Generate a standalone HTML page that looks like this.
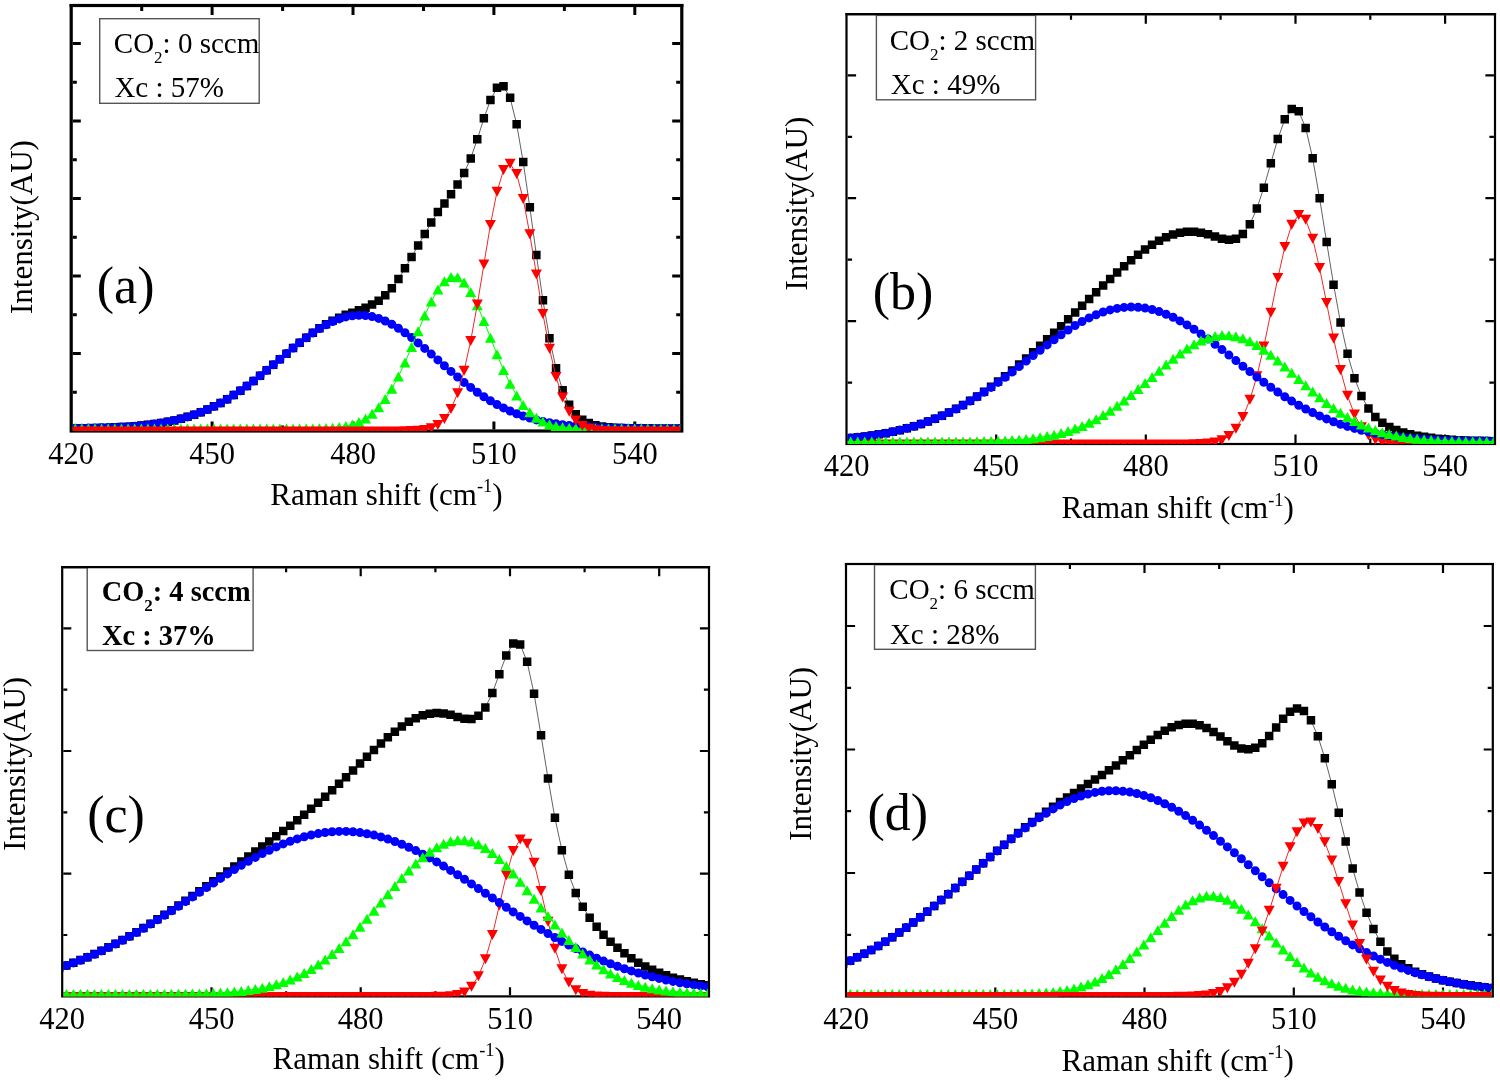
<!DOCTYPE html><html><head><meta charset="utf-8"><title>Raman spectra</title><style>html,body{margin:0;padding:0;background:#fff;overflow:hidden}svg{display:block;will-change:transform}</style></head><body>
<svg width="1500" height="1080" viewBox="0 0 1500 1080">
<rect width="1500" height="1080" fill="#fff"/>
<defs>
<clipPath id="clipa"><rect x="72.8" y="7.1" width="607.4" height="423.9"/></clipPath>
<clipPath id="clipb"><rect x="847.6" y="15.3" width="646.3" height="428.7"/></clipPath>
<clipPath id="clipc"><rect x="63.3" y="568.3" width="644.6" height="428.1"/></clipPath>
<clipPath id="clipd"><rect x="847.1" y="565.1" width="644.6" height="431.4"/></clipPath>
</defs>
<g id="panela">
<rect x="71.2" y="5.5" width="610.6" height="425.5" fill="none" stroke="#000" stroke-width="3.2"/>
<path d="M141.7 429.4v-4.0M141.7 7.1v4.0M212.1 429.4v-8.0M212.1 7.1v8.0M282.6 429.4v-4.0M282.6 7.1v4.0M353 429.4v-8.0M353 7.1v8.0M423.5 429.4v-4.0M423.5 7.1v4.0M493.9 429.4v-8.0M493.9 7.1v8.0M564.4 429.4v-4.0M564.4 7.1v4.0M634.8 429.4v-8.0M634.8 7.1v8.0M72.8 392.2h4.0M680.2 392.2h-4.0M72.8 353.5h8.0M680.2 353.5h-8.0M72.8 314.8h4.0M680.2 314.8h-4.0M72.8 276h8.0M680.2 276h-8.0M72.8 237.2h4.0M680.2 237.2h-4.0M72.8 198.5h8.0M680.2 198.5h-8.0M72.8 159.8h4.0M680.2 159.8h-4.0M72.8 121h8.0M680.2 121h-8.0M72.8 82.2h4.0M680.2 82.2h-4.0M72.8 43.5h8.0M680.2 43.5h-8.0" stroke="#000" stroke-width="3.0" fill="none"/>
<g clip-path="url(#clipa)">
<polyline fill="none" stroke="#505050" stroke-width="0.9" points="68.5,428.3 75.2,428.3 81.8,428.2 88.4,428.1 95,428 101.6,427.8 108.2,427.6 114.8,427.4 121.4,427 128.1,426.7 134.7,426.2 141.3,425.6 147.9,424.9 154.5,424 161.1,423 167.7,421.8 174.3,420.4 180.9,418.8 187.5,416.9 194.1,414.7 200.7,412.3 207.3,409.5 213.9,406.4 220.5,403 227.1,399.2 233.7,395.1 240.3,390.7 246.9,386 253.5,381 260.1,375.7 266.7,370.3 273.3,364.8 279.9,359.2 286.5,353.6 293.1,348.1 299.6,342.7 306.2,337.6 312.8,332.8 319.4,328.3 326,324.3 332.6,320.6 339.2,317.6 345.8,314.8 352.3,312.7 358.9,310.3 365.5,307.8 372.1,304.5 378.7,300.7 385.2,295.1 391.8,288.2 398.4,278.9 405,268.4 411.6,256.9 418.1,245.5 424.7,234.1 431.3,222.6 437.9,212.1 444.4,203.6 451,194.3 457.6,184.4 464.1,172.9 470.7,158.4 477.3,139.3 483.9,118.4 490.4,100.1 497,87.8 503.5,86.3 510.1,97.8 516.7,124.4 523.2,162 529.8,207.2 536.4,254.9 542.9,300.3 549.5,338.1 556,368.2 562.6,390.2 569.2,404.9 575.7,414.4 582.3,419.9 588.8,423 595.4,425.1 601.9,426.4 608.5,427.3 615,427.9 621.6,428.1 628.2,428.2 634.7,428.3 641.3,428.3 647.8,428.4 654.3,428.4 660.9,428.4 667.4,428.5 674,428.5 680.5,428.5"/>
<path fill="#000" d="M64.3 424.1h8.5v8.5h-8.5zM70.9 424h8.5v8.5h-8.5zM77.5 423.9h8.5v8.5h-8.5zM84.1 423.9h8.5v8.5h-8.5zM90.7 423.7h8.5v8.5h-8.5zM97.4 423.6h8.5v8.5h-8.5zM104 423.4h8.5v8.5h-8.5zM110.6 423.1h8.5v8.5h-8.5zM117.2 422.8h8.5v8.5h-8.5zM123.8 422.4h8.5v8.5h-8.5zM130.4 421.9h8.5v8.5h-8.5zM137 421.3h8.5v8.5h-8.5zM143.6 420.6h8.5v8.5h-8.5zM150.2 419.8h8.5v8.5h-8.5zM156.8 418.8h8.5v8.5h-8.5zM163.5 417.6h8.5v8.5h-8.5zM170.1 416.2h8.5v8.5h-8.5zM176.7 414.5h8.5v8.5h-8.5zM183.3 412.6h8.5v8.5h-8.5zM189.9 410.5h8.5v8.5h-8.5zM196.5 408h8.5v8.5h-8.5zM203.1 405.2h8.5v8.5h-8.5zM209.7 402.1h8.5v8.5h-8.5zM216.3 398.7h8.5v8.5h-8.5zM222.9 394.9h8.5v8.5h-8.5zM229.5 390.8h8.5v8.5h-8.5zM236.1 386.4h8.5v8.5h-8.5zM242.7 381.7h8.5v8.5h-8.5zM249.3 376.7h8.5v8.5h-8.5zM255.8 371.5h8.5v8.5h-8.5zM262.4 366.1h8.5v8.5h-8.5zM269 360.6h8.5v8.5h-8.5zM275.6 355h8.5v8.5h-8.5zM282.2 349.4h8.5v8.5h-8.5zM288.8 343.8h8.5v8.5h-8.5zM295.4 338.5h8.5v8.5h-8.5zM302 333.4h8.5v8.5h-8.5zM308.6 328.5h8.5v8.5h-8.5zM315.2 324.1h8.5v8.5h-8.5zM321.8 320h8.5v8.5h-8.5zM328.3 316.4h8.5v8.5h-8.5zM334.9 313.4h8.5v8.5h-8.5zM341.5 310.5h8.5v8.5h-8.5zM348.1 308.5h8.5v8.5h-8.5zM354.7 306.1h8.5v8.5h-8.5zM361.3 303.5h8.5v8.5h-8.5zM367.8 300.2h8.5v8.5h-8.5zM374.4 296.4h8.5v8.5h-8.5zM381 290.9h8.5v8.5h-8.5zM387.6 283.9h8.5v8.5h-8.5zM394.2 274.7h8.5v8.5h-8.5zM400.7 264.1h8.5v8.5h-8.5zM407.3 252.7h8.5v8.5h-8.5zM413.9 241.3h8.5v8.5h-8.5zM420.5 229.8h8.5v8.5h-8.5zM427 218.3h8.5v8.5h-8.5zM433.6 207.8h8.5v8.5h-8.5zM440.2 199.3h8.5v8.5h-8.5zM446.8 190.1h8.5v8.5h-8.5zM453.3 180.2h8.5v8.5h-8.5zM459.9 168.7h8.5v8.5h-8.5zM466.5 154.2h8.5v8.5h-8.5zM473 135.1h8.5v8.5h-8.5zM479.6 114.1h8.5v8.5h-8.5zM486.2 95.8h8.5v8.5h-8.5zM492.7 83.6h8.5v8.5h-8.5zM499.3 82h8.5v8.5h-8.5zM505.9 93.5h8.5v8.5h-8.5zM512.4 120.1h8.5v8.5h-8.5zM519 157.7h8.5v8.5h-8.5zM525.6 202.9h8.5v8.5h-8.5zM532.1 250.7h8.5v8.5h-8.5zM538.7 296.1h8.5v8.5h-8.5zM545.2 333.9h8.5v8.5h-8.5zM551.8 364h8.5v8.5h-8.5zM558.4 386h8.5v8.5h-8.5zM564.9 400.6h8.5v8.5h-8.5zM571.5 410.1h8.5v8.5h-8.5zM578 415.6h8.5v8.5h-8.5zM584.6 418.8h8.5v8.5h-8.5zM591.1 420.9h8.5v8.5h-8.5zM597.7 422.2h8.5v8.5h-8.5zM604.2 423h8.5v8.5h-8.5zM610.8 423.6h8.5v8.5h-8.5zM617.4 423.8h8.5v8.5h-8.5zM623.9 423.9h8.5v8.5h-8.5zM630.5 424h8.5v8.5h-8.5zM637 424.1h8.5v8.5h-8.5zM643.5 424.1h8.5v8.5h-8.5zM650.1 424.2h8.5v8.5h-8.5zM656.6 424.2h8.5v8.5h-8.5zM663.2 424.2h8.5v8.5h-8.5zM669.7 424.2h8.5v8.5h-8.5zM676.3 424.2h8.5v8.5h-8.5z"/>
<polyline fill="none" stroke="#0000ff" stroke-width="1.0" points="68.5,428.3 75.2,428.3 81.8,428.2 88.4,428.1 95,428 101.6,427.8 108.2,427.6 114.8,427.4 121.4,427 128.1,426.7 134.7,426.2 141.3,425.6 147.9,424.9 154.5,424 161.1,423 167.7,421.8 174.3,420.4 180.9,418.8 187.5,416.9 194.1,414.7 200.7,412.3 207.3,409.5 213.9,406.4 220.5,403 227.1,399.2 233.7,395.1 240.3,390.7 246.9,386 253.5,381 260.1,375.7 266.7,370.3 273.3,364.8 279.9,359.2 286.5,353.6 293.1,348.1 299.6,342.8 306.2,337.7 312.8,333 319.4,328.6 326,324.8 332.6,321.5 339.2,318.9 345.8,316.9 352.3,315.7 358.9,315.2 365.5,315.5 372.1,316.6 378.7,318.4 385.2,321 391.8,324.3 398.4,328.2 405,332.7 411.6,337.6 418.1,342.9 424.7,348.4 431.3,354.1 437.9,359.9 444.4,365.7 451,371.4 457.6,377 464.1,382.4 470.7,387.4 477.3,392.2 483.9,396.7 490.4,400.8 497,404.5 503.5,407.9 510.1,411 516.7,413.7 523.2,416 529.8,418.1 536.4,419.9 542.9,421.4 549.5,422.7 556,423.8 562.6,424.7 569.2,425.5 575.7,426.1 582.3,426.6 588.8,427 595.4,427.3 601.9,427.6 608.5,427.8 615,428 621.6,428.1 628.2,428.2 634.7,428.3 641.3,428.3 647.8,428.4 654.3,428.4 660.9,428.4 667.4,428.5 674,428.5 680.5,428.5"/>
<path fill="#0000ff" d="M64 428.3a4.5 4.5 0 1 0 9.0 0a4.5 4.5 0 1 0 -9.0 0zM70.7 428.3a4.5 4.5 0 1 0 9.0 0a4.5 4.5 0 1 0 -9.0 0zM77.3 428.2a4.5 4.5 0 1 0 9.0 0a4.5 4.5 0 1 0 -9.0 0zM83.9 428.1a4.5 4.5 0 1 0 9.0 0a4.5 4.5 0 1 0 -9.0 0zM90.5 428a4.5 4.5 0 1 0 9.0 0a4.5 4.5 0 1 0 -9.0 0zM97.1 427.8a4.5 4.5 0 1 0 9.0 0a4.5 4.5 0 1 0 -9.0 0zM103.7 427.6a4.5 4.5 0 1 0 9.0 0a4.5 4.5 0 1 0 -9.0 0zM110.3 427.4a4.5 4.5 0 1 0 9.0 0a4.5 4.5 0 1 0 -9.0 0zM116.9 427a4.5 4.5 0 1 0 9.0 0a4.5 4.5 0 1 0 -9.0 0zM123.6 426.7a4.5 4.5 0 1 0 9.0 0a4.5 4.5 0 1 0 -9.0 0zM130.2 426.2a4.5 4.5 0 1 0 9.0 0a4.5 4.5 0 1 0 -9.0 0zM136.8 425.6a4.5 4.5 0 1 0 9.0 0a4.5 4.5 0 1 0 -9.0 0zM143.4 424.9a4.5 4.5 0 1 0 9.0 0a4.5 4.5 0 1 0 -9.0 0zM150 424a4.5 4.5 0 1 0 9.0 0a4.5 4.5 0 1 0 -9.0 0zM156.6 423a4.5 4.5 0 1 0 9.0 0a4.5 4.5 0 1 0 -9.0 0zM163.2 421.8a4.5 4.5 0 1 0 9.0 0a4.5 4.5 0 1 0 -9.0 0zM169.8 420.4a4.5 4.5 0 1 0 9.0 0a4.5 4.5 0 1 0 -9.0 0zM176.4 418.8a4.5 4.5 0 1 0 9.0 0a4.5 4.5 0 1 0 -9.0 0zM183 416.9a4.5 4.5 0 1 0 9.0 0a4.5 4.5 0 1 0 -9.0 0zM189.6 414.7a4.5 4.5 0 1 0 9.0 0a4.5 4.5 0 1 0 -9.0 0zM196.2 412.3a4.5 4.5 0 1 0 9.0 0a4.5 4.5 0 1 0 -9.0 0zM202.8 409.5a4.5 4.5 0 1 0 9.0 0a4.5 4.5 0 1 0 -9.0 0zM209.4 406.4a4.5 4.5 0 1 0 9.0 0a4.5 4.5 0 1 0 -9.0 0zM216 403a4.5 4.5 0 1 0 9.0 0a4.5 4.5 0 1 0 -9.0 0zM222.6 399.2a4.5 4.5 0 1 0 9.0 0a4.5 4.5 0 1 0 -9.0 0zM229.2 395.1a4.5 4.5 0 1 0 9.0 0a4.5 4.5 0 1 0 -9.0 0zM235.8 390.7a4.5 4.5 0 1 0 9.0 0a4.5 4.5 0 1 0 -9.0 0zM242.4 386a4.5 4.5 0 1 0 9.0 0a4.5 4.5 0 1 0 -9.0 0zM249 381a4.5 4.5 0 1 0 9.0 0a4.5 4.5 0 1 0 -9.0 0zM255.6 375.7a4.5 4.5 0 1 0 9.0 0a4.5 4.5 0 1 0 -9.0 0zM262.2 370.3a4.5 4.5 0 1 0 9.0 0a4.5 4.5 0 1 0 -9.0 0zM268.8 364.8a4.5 4.5 0 1 0 9.0 0a4.5 4.5 0 1 0 -9.0 0zM275.4 359.2a4.5 4.5 0 1 0 9.0 0a4.5 4.5 0 1 0 -9.0 0zM282 353.6a4.5 4.5 0 1 0 9.0 0a4.5 4.5 0 1 0 -9.0 0zM288.6 348.1a4.5 4.5 0 1 0 9.0 0a4.5 4.5 0 1 0 -9.0 0zM295.1 342.8a4.5 4.5 0 1 0 9.0 0a4.5 4.5 0 1 0 -9.0 0zM301.7 337.7a4.5 4.5 0 1 0 9.0 0a4.5 4.5 0 1 0 -9.0 0zM308.3 333a4.5 4.5 0 1 0 9.0 0a4.5 4.5 0 1 0 -9.0 0zM314.9 328.6a4.5 4.5 0 1 0 9.0 0a4.5 4.5 0 1 0 -9.0 0zM321.5 324.8a4.5 4.5 0 1 0 9.0 0a4.5 4.5 0 1 0 -9.0 0zM328.1 321.5a4.5 4.5 0 1 0 9.0 0a4.5 4.5 0 1 0 -9.0 0zM334.7 318.9a4.5 4.5 0 1 0 9.0 0a4.5 4.5 0 1 0 -9.0 0zM341.3 316.9a4.5 4.5 0 1 0 9.0 0a4.5 4.5 0 1 0 -9.0 0zM347.8 315.7a4.5 4.5 0 1 0 9.0 0a4.5 4.5 0 1 0 -9.0 0zM354.4 315.2a4.5 4.5 0 1 0 9.0 0a4.5 4.5 0 1 0 -9.0 0zM361 315.5a4.5 4.5 0 1 0 9.0 0a4.5 4.5 0 1 0 -9.0 0zM367.6 316.6a4.5 4.5 0 1 0 9.0 0a4.5 4.5 0 1 0 -9.0 0zM374.2 318.4a4.5 4.5 0 1 0 9.0 0a4.5 4.5 0 1 0 -9.0 0zM380.7 321a4.5 4.5 0 1 0 9.0 0a4.5 4.5 0 1 0 -9.0 0zM387.3 324.3a4.5 4.5 0 1 0 9.0 0a4.5 4.5 0 1 0 -9.0 0zM393.9 328.2a4.5 4.5 0 1 0 9.0 0a4.5 4.5 0 1 0 -9.0 0zM400.5 332.7a4.5 4.5 0 1 0 9.0 0a4.5 4.5 0 1 0 -9.0 0zM407.1 337.6a4.5 4.5 0 1 0 9.0 0a4.5 4.5 0 1 0 -9.0 0zM413.6 342.9a4.5 4.5 0 1 0 9.0 0a4.5 4.5 0 1 0 -9.0 0zM420.2 348.4a4.5 4.5 0 1 0 9.0 0a4.5 4.5 0 1 0 -9.0 0zM426.8 354.1a4.5 4.5 0 1 0 9.0 0a4.5 4.5 0 1 0 -9.0 0zM433.4 359.9a4.5 4.5 0 1 0 9.0 0a4.5 4.5 0 1 0 -9.0 0zM439.9 365.7a4.5 4.5 0 1 0 9.0 0a4.5 4.5 0 1 0 -9.0 0zM446.5 371.4a4.5 4.5 0 1 0 9.0 0a4.5 4.5 0 1 0 -9.0 0zM453.1 377a4.5 4.5 0 1 0 9.0 0a4.5 4.5 0 1 0 -9.0 0zM459.6 382.4a4.5 4.5 0 1 0 9.0 0a4.5 4.5 0 1 0 -9.0 0zM466.2 387.4a4.5 4.5 0 1 0 9.0 0a4.5 4.5 0 1 0 -9.0 0zM472.8 392.2a4.5 4.5 0 1 0 9.0 0a4.5 4.5 0 1 0 -9.0 0zM479.4 396.7a4.5 4.5 0 1 0 9.0 0a4.5 4.5 0 1 0 -9.0 0zM485.9 400.8a4.5 4.5 0 1 0 9.0 0a4.5 4.5 0 1 0 -9.0 0zM492.5 404.5a4.5 4.5 0 1 0 9.0 0a4.5 4.5 0 1 0 -9.0 0zM499 407.9a4.5 4.5 0 1 0 9.0 0a4.5 4.5 0 1 0 -9.0 0zM505.6 411a4.5 4.5 0 1 0 9.0 0a4.5 4.5 0 1 0 -9.0 0zM512.2 413.7a4.5 4.5 0 1 0 9.0 0a4.5 4.5 0 1 0 -9.0 0zM518.7 416a4.5 4.5 0 1 0 9.0 0a4.5 4.5 0 1 0 -9.0 0zM525.3 418.1a4.5 4.5 0 1 0 9.0 0a4.5 4.5 0 1 0 -9.0 0zM531.9 419.9a4.5 4.5 0 1 0 9.0 0a4.5 4.5 0 1 0 -9.0 0zM538.4 421.4a4.5 4.5 0 1 0 9.0 0a4.5 4.5 0 1 0 -9.0 0zM545 422.7a4.5 4.5 0 1 0 9.0 0a4.5 4.5 0 1 0 -9.0 0zM551.5 423.8a4.5 4.5 0 1 0 9.0 0a4.5 4.5 0 1 0 -9.0 0zM558.1 424.7a4.5 4.5 0 1 0 9.0 0a4.5 4.5 0 1 0 -9.0 0zM564.7 425.5a4.5 4.5 0 1 0 9.0 0a4.5 4.5 0 1 0 -9.0 0zM571.2 426.1a4.5 4.5 0 1 0 9.0 0a4.5 4.5 0 1 0 -9.0 0zM577.8 426.6a4.5 4.5 0 1 0 9.0 0a4.5 4.5 0 1 0 -9.0 0zM584.3 427a4.5 4.5 0 1 0 9.0 0a4.5 4.5 0 1 0 -9.0 0zM590.9 427.3a4.5 4.5 0 1 0 9.0 0a4.5 4.5 0 1 0 -9.0 0zM597.4 427.6a4.5 4.5 0 1 0 9.0 0a4.5 4.5 0 1 0 -9.0 0zM604 427.8a4.5 4.5 0 1 0 9.0 0a4.5 4.5 0 1 0 -9.0 0zM610.5 428a4.5 4.5 0 1 0 9.0 0a4.5 4.5 0 1 0 -9.0 0zM617.1 428.1a4.5 4.5 0 1 0 9.0 0a4.5 4.5 0 1 0 -9.0 0zM623.7 428.2a4.5 4.5 0 1 0 9.0 0a4.5 4.5 0 1 0 -9.0 0zM630.2 428.3a4.5 4.5 0 1 0 9.0 0a4.5 4.5 0 1 0 -9.0 0zM636.8 428.3a4.5 4.5 0 1 0 9.0 0a4.5 4.5 0 1 0 -9.0 0zM643.3 428.4a4.5 4.5 0 1 0 9.0 0a4.5 4.5 0 1 0 -9.0 0zM649.8 428.4a4.5 4.5 0 1 0 9.0 0a4.5 4.5 0 1 0 -9.0 0zM656.4 428.4a4.5 4.5 0 1 0 9.0 0a4.5 4.5 0 1 0 -9.0 0zM662.9 428.5a4.5 4.5 0 1 0 9.0 0a4.5 4.5 0 1 0 -9.0 0zM669.5 428.5a4.5 4.5 0 1 0 9.0 0a4.5 4.5 0 1 0 -9.0 0zM676 428.5a4.5 4.5 0 1 0 9.0 0a4.5 4.5 0 1 0 -9.0 0z"/>
<polyline fill="none" stroke="#00ff00" stroke-width="1.0" points="68.5,428.6 75.2,428.6 81.8,428.6 88.4,428.6 95,428.6 101.6,428.6 108.2,428.6 114.8,428.6 121.4,428.6 128.1,428.6 134.7,428.6 141.3,428.6 147.9,428.6 154.5,428.6 161.1,428.6 167.7,428.6 174.3,428.6 180.9,428.6 187.5,428.6 194.1,428.6 200.7,428.6 207.3,428.6 213.9,428.6 220.5,428.6 227.1,428.6 233.7,428.6 240.3,428.6 246.9,428.6 253.5,428.6 260.1,428.6 266.7,428.6 273.3,428.6 279.9,428.6 286.5,428.6 293.1,428.6 299.6,428.6 306.2,428.5 312.8,428.4 319.4,428.3 326,428.1 332.6,427.7 339.2,427 345.8,426 352.3,424.4 358.9,422 365.5,418.5 372.1,413.7 378.7,407.3 385.2,399 391.8,388.7 398.4,376.4 405,362.4 411.6,347.1 418.1,331.2 424.7,315.6 431.3,301.4 437.9,289.6 444.4,281.2 451,277 457.6,277.3 464.1,282.5 470.7,292.1 477.3,305.3 483.9,321 490.4,337.7 497,354.3 503.5,369.9 510.1,383.8 516.7,395.5 523.2,404.9 529.8,412.2 536.4,417.7 542.9,421.5 549.5,424.2 556,425.9 562.6,427 569.2,427.7 575.7,428.1 582.3,428.3 588.8,428.5 595.4,428.5 601.9,428.6 608.5,428.6 615,428.6 621.6,428.6 628.2,428.6 634.7,428.6 641.3,428.6 647.8,428.6 654.3,428.6 660.9,428.6 667.4,428.6 674,428.6 680.5,428.6"/>
<path fill="#00ff00" d="M68.5 423.6L74 433.6H63zM75.2 423.6L80.7 433.6H69.7zM81.8 423.6L87.3 433.6H76.3zM88.4 423.6L93.9 433.6H82.9zM95 423.6L100.5 433.6H89.5zM101.6 423.6L107.1 433.6H96.1zM108.2 423.6L113.7 433.6H102.7zM114.8 423.6L120.3 433.6H109.3zM121.4 423.6L126.9 433.6H115.9zM128.1 423.6L133.6 433.6H122.6zM134.7 423.6L140.2 433.6H129.2zM141.3 423.6L146.8 433.6H135.8zM147.9 423.6L153.4 433.6H142.4zM154.5 423.6L160 433.6H149zM161.1 423.6L166.6 433.6H155.6zM167.7 423.6L173.2 433.6H162.2zM174.3 423.6L179.8 433.6H168.8zM180.9 423.6L186.4 433.6H175.4zM187.5 423.6L193 433.6H182zM194.1 423.6L199.6 433.6H188.6zM200.7 423.6L206.2 433.6H195.2zM207.3 423.6L212.8 433.6H201.8zM213.9 423.6L219.4 433.6H208.4zM220.5 423.6L226 433.6H215zM227.1 423.6L232.6 433.6H221.6zM233.7 423.6L239.2 433.6H228.2zM240.3 423.6L245.8 433.6H234.8zM246.9 423.6L252.4 433.6H241.4zM253.5 423.6L259 433.6H248zM260.1 423.6L265.6 433.6H254.6zM266.7 423.6L272.2 433.6H261.2zM273.3 423.6L278.8 433.6H267.8zM279.9 423.6L285.4 433.6H274.4zM286.5 423.6L292 433.6H281zM293.1 423.6L298.6 433.6H287.6zM299.6 423.6L305.1 433.6H294.1zM306.2 423.5L311.7 433.5H300.7zM312.8 423.4L318.3 433.4H307.3zM319.4 423.3L324.9 433.3H313.9zM326 423.1L331.5 433.1H320.5zM332.6 422.7L338.1 432.7H327.1zM339.2 422L344.7 432H333.7zM345.8 421L351.3 431H340.3zM352.3 419.4L357.8 429.4H346.8zM358.9 417L364.4 427H353.4zM365.5 413.5L371 423.5H360zM372.1 408.7L377.6 418.7H366.6zM378.7 402.3L384.2 412.3H373.2zM385.2 394L390.7 404H379.7zM391.8 383.7L397.3 393.7H386.3zM398.4 371.4L403.9 381.4H392.9zM405 357.4L410.5 367.4H399.5zM411.6 342.1L417.1 352.1H406.1zM418.1 326.2L423.6 336.2H412.6zM424.7 310.6L430.2 320.6H419.2zM431.3 296.4L436.8 306.4H425.8zM437.9 284.6L443.4 294.6H432.4zM444.4 276.2L449.9 286.2H438.9zM451 272L456.5 282H445.5zM457.6 272.3L463.1 282.3H452.1zM464.1 277.5L469.6 287.5H458.6zM470.7 287.1L476.2 297.1H465.2zM477.3 300.3L482.8 310.3H471.8zM483.9 316L489.4 326H478.4zM490.4 332.7L495.9 342.7H484.9zM497 349.3L502.5 359.3H491.5zM503.5 364.9L509 374.9H498zM510.1 378.8L515.6 388.8H504.6zM516.7 390.5L522.2 400.5H511.2zM523.2 399.9L528.7 409.9H517.7zM529.8 407.2L535.3 417.2H524.3zM536.4 412.7L541.9 422.7H530.9zM542.9 416.5L548.4 426.5H537.4zM549.5 419.2L555 429.2H544zM556 420.9L561.5 430.9H550.5zM562.6 422L568.1 432H557.1zM569.2 422.7L574.7 432.7H563.7zM575.7 423.1L581.2 433.1H570.2zM582.3 423.3L587.8 433.3H576.8zM588.8 423.5L594.3 433.5H583.3zM595.4 423.5L600.9 433.5H589.9zM601.9 423.6L607.4 433.6H596.4zM608.5 423.6L614 433.6H603zM615 423.6L620.5 433.6H609.5zM621.6 423.6L627.1 433.6H616.1zM628.2 423.6L633.7 433.6H622.7zM634.7 423.6L640.2 433.6H629.2zM641.3 423.6L646.8 433.6H635.8zM647.8 423.6L653.3 433.6H642.3zM654.3 423.6L659.8 433.6H648.8zM660.9 423.6L666.4 433.6H655.4zM667.4 423.6L672.9 433.6H661.9zM674 423.6L679.5 433.6H668.5zM680.5 423.6L686 433.6H675z"/>
<polyline fill="none" stroke="#f02828" stroke-width="1.0" points="68.5,431.4 75.2,431.4 81.8,431.4 88.4,431.4 95,431.4 101.6,431.4 108.2,431.4 114.8,431.4 121.4,431.4 128.1,431.4 134.7,431.4 141.3,431.4 147.9,431.4 154.5,431.4 161.1,431.4 167.7,431.4 174.3,431.4 180.9,431.4 187.5,431.4 194.1,431.4 200.7,431.4 207.3,431.4 213.9,431.4 220.5,431.4 227.1,431.4 233.7,431.4 240.3,431.4 246.9,431.4 253.5,431.4 260.1,431.4 266.7,431.4 273.3,431.4 279.9,431.4 286.5,431.4 293.1,431.4 299.6,431.4 306.2,431.4 312.8,431.4 319.4,431.4 326,431.4 332.6,431.4 339.2,431.4 345.8,431.4 352.3,431.4 358.9,431.4 365.5,431.4 372.1,431.4 378.7,431.4 385.2,431.4 391.8,431.4 398.4,431.4 405,431.3 411.6,431.1 418.1,430.8 424.7,429.9 431.3,428.2 437.9,424.9 444.4,418.9 451,408.9 457.6,393.3 464.1,370.8 470.7,340.9 477.3,304.5 483.9,264.4 490.4,224.9 497,191.7 503.5,170.1 510.1,163.8 516.7,174.1 523.2,199 529.8,234.3 536.4,274.4 542.9,313.9 549.5,348.8 556,376.9 562.6,397.6 569.2,411.7 575.7,420.6 582.3,425.9 588.8,428.7 595.4,430.2 601.9,430.9 608.5,431.2 615,431.3 621.6,431.4 628.2,431.4 634.7,431.4 641.3,431.4 647.8,431.4 654.3,431.4 660.9,431.4 667.4,431.4 674,431.4 680.5,431.4"/>
<path fill="#ff0000" d="M63 426.4H74L68.5 436.4zM69.7 426.4H80.7L75.2 436.4zM76.3 426.4H87.3L81.8 436.4zM82.9 426.4H93.9L88.4 436.4zM89.5 426.4H100.5L95 436.4zM96.1 426.4H107.1L101.6 436.4zM102.7 426.4H113.7L108.2 436.4zM109.3 426.4H120.3L114.8 436.4zM115.9 426.4H126.9L121.4 436.4zM122.6 426.4H133.6L128.1 436.4zM129.2 426.4H140.2L134.7 436.4zM135.8 426.4H146.8L141.3 436.4zM142.4 426.4H153.4L147.9 436.4zM149 426.4H160L154.5 436.4zM155.6 426.4H166.6L161.1 436.4zM162.2 426.4H173.2L167.7 436.4zM168.8 426.4H179.8L174.3 436.4zM175.4 426.4H186.4L180.9 436.4zM182 426.4H193L187.5 436.4zM188.6 426.4H199.6L194.1 436.4zM195.2 426.4H206.2L200.7 436.4zM201.8 426.4H212.8L207.3 436.4zM208.4 426.4H219.4L213.9 436.4zM215 426.4H226L220.5 436.4zM221.6 426.4H232.6L227.1 436.4zM228.2 426.4H239.2L233.7 436.4zM234.8 426.4H245.8L240.3 436.4zM241.4 426.4H252.4L246.9 436.4zM248 426.4H259L253.5 436.4zM254.6 426.4H265.6L260.1 436.4zM261.2 426.4H272.2L266.7 436.4zM267.8 426.4H278.8L273.3 436.4zM274.4 426.4H285.4L279.9 436.4zM281 426.4H292L286.5 436.4zM287.6 426.4H298.6L293.1 436.4zM294.1 426.4H305.1L299.6 436.4zM300.7 426.4H311.7L306.2 436.4zM307.3 426.4H318.3L312.8 436.4zM313.9 426.4H324.9L319.4 436.4zM320.5 426.4H331.5L326 436.4zM327.1 426.4H338.1L332.6 436.4zM333.7 426.4H344.7L339.2 436.4zM340.3 426.4H351.3L345.8 436.4zM346.8 426.4H357.8L352.3 436.4zM353.4 426.4H364.4L358.9 436.4zM360 426.4H371L365.5 436.4zM366.6 426.4H377.6L372.1 436.4zM373.2 426.4H384.2L378.7 436.4zM379.7 426.4H390.7L385.2 436.4zM386.3 426.4H397.3L391.8 436.4zM392.9 426.4H403.9L398.4 436.4zM399.5 426.3H410.5L405 436.3zM406.1 426.1H417.1L411.6 436.1zM412.6 425.8H423.6L418.1 435.8zM419.2 424.9H430.2L424.7 434.9zM425.8 423.2H436.8L431.3 433.2zM432.4 419.9H443.4L437.9 429.9zM438.9 413.9H449.9L444.4 423.9zM445.5 403.9H456.5L451 413.9zM452.1 388.3H463.1L457.6 398.3zM458.6 365.8H469.6L464.1 375.8zM465.2 335.9H476.2L470.7 345.9zM471.8 299.5H482.8L477.3 309.5zM478.4 259.4H489.4L483.9 269.4zM484.9 219.9H495.9L490.4 229.9zM491.5 186.7H502.5L497 196.7zM498 165.1H509L503.5 175.1zM504.6 158.8H515.6L510.1 168.8zM511.2 169.1H522.2L516.7 179.1zM517.7 194H528.7L523.2 204zM524.3 229.3H535.3L529.8 239.3zM530.9 269.4H541.9L536.4 279.4zM537.4 308.9H548.4L542.9 318.9zM544 343.8H555L549.5 353.8zM550.5 371.9H561.5L556 381.9zM557.1 392.6H568.1L562.6 402.6zM563.7 406.7H574.7L569.2 416.7zM570.2 415.6H581.2L575.7 425.6zM576.8 420.9H587.8L582.3 430.9zM583.3 423.7H594.3L588.8 433.7zM589.9 425.2H600.9L595.4 435.2zM596.4 425.9H607.4L601.9 435.9zM603 426.2H614L608.5 436.2zM609.5 426.3H620.5L615 436.3zM616.1 426.4H627.1L621.6 436.4zM622.7 426.4H633.7L628.2 436.4zM629.2 426.4H640.2L634.7 436.4zM635.8 426.4H646.8L641.3 436.4zM642.3 426.4H653.3L647.8 436.4zM648.8 426.4H659.8L654.3 436.4zM655.4 426.4H666.4L660.9 436.4zM661.9 426.4H672.9L667.4 436.4zM668.5 426.4H679.5L674 436.4zM675 426.4H686L680.5 436.4z"/>
</g>
<g font-family='"Liberation Serif", serif' font-size="30.5" fill="#000" text-anchor="middle">
<text x="71.2" y="463.6">420</text>
<text x="212.1" y="463.6">450</text>
<text x="353" y="463.6">480</text>
<text x="493.9" y="463.6">510</text>
<text x="634.8" y="463.6">540</text>
</g>
<text x="270.3" y="504.7" font-family='"Liberation Serif", serif' font-size="31" fill="#000">Raman shift (cm<tspan font-size="18.5" dy="-12.5">-1</tspan><tspan dy="12.5">)</tspan></text>
<text transform="translate(31.9,314.0) rotate(-90)" x="0" y="0" font-family='"Liberation Serif", serif' font-size="31" fill="#000">Intensity(AU)</text>
<rect x="99.7" y="18.7" width="159.5" height="84.6" fill="#fff" stroke="#555" stroke-width="1.4"/>
<text x="113.8" y="52.5" font-family='"Liberation Serif", serif' font-size="29" fill="#000">CO<tspan font-size="17" dy="10">2</tspan><tspan dy="-10">: 0 sccm</tspan></text>
<text x="114.4" y="97.2" font-family='"Liberation Serif", serif' font-size="29" fill="#000">Xc : 57%</text>
<text x="96.8" y="303.3" font-family='"Liberation Serif", serif' font-size="52" fill="#000">(a)</text>
<path d="M71.2 5.5H681.8" fill="none" stroke="#000" stroke-width="3.2" stroke-linecap="square"/>
</g>
<g id="panelb">
<rect x="846.5" y="14.2" width="648.5" height="429.8" fill="none" stroke="#000" stroke-width="2.2"/>
<path d="M921.3 442.9v-4.5M921.3 15.3v4.5M996.2 442.9v-8.5M996.2 15.3v8.5M1071 442.9v-4.5M1071 15.3v4.5M1145.8 442.9v-8.5M1145.8 15.3v8.5M1220.6 442.9v-4.5M1220.6 15.3v4.5M1295.5 442.9v-8.5M1295.5 15.3v8.5M1370.3 442.9v-4.5M1370.3 15.3v4.5M1445.1 442.9v-8.5M1445.1 15.3v8.5M847.6 382.6h4.5M1493.9 382.6h-4.5M847.6 321.1h8.5M1493.9 321.1h-8.5M847.6 259.6h4.5M1493.9 259.6h-4.5M847.6 198.2h8.5M1493.9 198.2h-8.5M847.6 136.8h4.5M1493.9 136.8h-4.5M847.6 75.3h8.5M1493.9 75.3h-8.5" stroke="#000" stroke-width="2.2" fill="none"/>
<g clip-path="url(#clipb)">
<polyline fill="none" stroke="#505050" stroke-width="0.9" points="843.7,438.5 850.7,437.9 857.7,437.2 864.8,436.4 871.8,435.5 878.8,434.4 885.8,433.2 892.8,431.7 899.9,430.1 906.9,428.3 913.9,426.3 920.9,424.1 927.9,421.6 935,418.8 942,415.8 949,412.5 956,408.9 963,405 970,400.9 977,396.5 984.1,391.8 991.1,386.8 998.1,381.6 1005.1,376.1 1012.1,370.4 1019.1,364.6 1026.1,358.5 1033.1,352.2 1040.1,345.9 1047.1,339.4 1054.1,332.8 1061.1,326.1 1068.1,319.4 1075.1,312.6 1082.1,305.8 1089.1,299 1096.1,292.3 1103.1,285.6 1110.1,279 1117.1,272.6 1124.1,266.4 1131.1,260.4 1138.1,254.8 1145.1,249.5 1152.1,244.8 1159.1,240.7 1166.1,237.2 1173.1,234.5 1180,232.7 1187,231.7 1194,231.7 1201,232.6 1208,234.4 1215,236.5 1222,238.6 1228.9,239.7 1235.9,238.7 1242.9,233.9 1249.9,224.1 1256.9,208.6 1263.8,187.6 1270.8,163.3 1277.8,139 1284.8,119.4 1291.7,108.9 1298.7,111.2 1305.7,128 1312.7,158.4 1319.6,198.2 1326.6,242 1333.6,284.7 1340.5,322.6 1347.5,353.9 1354.5,378.1 1361.4,395.9 1368.4,408.4 1375.4,417 1382.3,422.9 1389.3,427 1396.3,430.1 1403.2,432.4 1410.2,434.2 1417.1,435.7 1424.1,436.9 1431.1,437.9 1438,438.6 1445,439.2 1451.9,439.7 1458.9,440.1 1465.8,440.4 1472.8,440.7 1479.7,440.9 1486.7,441 1493.7,441.1"/>
<path fill="#000" d="M839.4 434.3h8.5v8.5h-8.5zM846.4 433.7h8.5v8.5h-8.5zM853.5 433h8.5v8.5h-8.5zM860.5 432.2h8.5v8.5h-8.5zM867.5 431.2h8.5v8.5h-8.5zM874.5 430.1h8.5v8.5h-8.5zM881.6 428.9h8.5v8.5h-8.5zM888.6 427.5h8.5v8.5h-8.5zM895.6 425.9h8.5v8.5h-8.5zM902.6 424.1h8.5v8.5h-8.5zM909.7 422.1h8.5v8.5h-8.5zM916.7 419.8h8.5v8.5h-8.5zM923.7 417.3h8.5v8.5h-8.5zM930.7 414.6h8.5v8.5h-8.5zM937.7 411.5h8.5v8.5h-8.5zM944.7 408.2h8.5v8.5h-8.5zM951.8 404.6h8.5v8.5h-8.5zM958.8 400.8h8.5v8.5h-8.5zM965.8 396.6h8.5v8.5h-8.5zM972.8 392.2h8.5v8.5h-8.5zM979.8 387.5h8.5v8.5h-8.5zM986.8 382.5h8.5v8.5h-8.5zM993.8 377.3h8.5v8.5h-8.5zM1000.8 371.9h8.5v8.5h-8.5zM1007.8 366.2h8.5v8.5h-8.5zM1014.9 360.3h8.5v8.5h-8.5zM1021.9 354.2h8.5v8.5h-8.5zM1028.9 348h8.5v8.5h-8.5zM1035.9 341.6h8.5v8.5h-8.5zM1042.9 335.1h8.5v8.5h-8.5zM1049.9 328.5h8.5v8.5h-8.5zM1056.9 321.9h8.5v8.5h-8.5zM1063.9 315.1h8.5v8.5h-8.5zM1070.9 308.3h8.5v8.5h-8.5zM1077.9 301.5h8.5v8.5h-8.5zM1084.9 294.8h8.5v8.5h-8.5zM1091.9 288h8.5v8.5h-8.5zM1098.9 281.3h8.5v8.5h-8.5zM1105.9 274.8h8.5v8.5h-8.5zM1112.9 268.3h8.5v8.5h-8.5zM1119.9 262.1h8.5v8.5h-8.5zM1126.9 256.1h8.5v8.5h-8.5zM1133.8 250.5h8.5v8.5h-8.5zM1140.8 245.3h8.5v8.5h-8.5zM1147.8 240.6h8.5v8.5h-8.5zM1154.8 236.4h8.5v8.5h-8.5zM1161.8 233h8.5v8.5h-8.5zM1168.8 230.3h8.5v8.5h-8.5zM1175.8 228.4h8.5v8.5h-8.5zM1182.8 227.5h8.5v8.5h-8.5zM1189.8 227.5h8.5v8.5h-8.5zM1196.7 228.4h8.5v8.5h-8.5zM1203.7 230.1h8.5v8.5h-8.5zM1210.7 232.3h8.5v8.5h-8.5zM1217.7 234.4h8.5v8.5h-8.5zM1224.7 235.5h8.5v8.5h-8.5zM1231.7 234.4h8.5v8.5h-8.5zM1238.6 229.7h8.5v8.5h-8.5zM1245.6 219.9h8.5v8.5h-8.5zM1252.6 204.3h8.5v8.5h-8.5zM1259.6 183.4h8.5v8.5h-8.5zM1266.6 159h8.5v8.5h-8.5zM1273.5 134.8h8.5v8.5h-8.5zM1280.5 115.1h8.5v8.5h-8.5zM1287.5 104.7h8.5v8.5h-8.5zM1294.5 107h8.5v8.5h-8.5zM1301.4 123.8h8.5v8.5h-8.5zM1308.4 154.1h8.5v8.5h-8.5zM1315.4 194h8.5v8.5h-8.5zM1322.4 237.8h8.5v8.5h-8.5zM1329.3 280.4h8.5v8.5h-8.5zM1336.3 318.3h8.5v8.5h-8.5zM1343.3 349.6h8.5v8.5h-8.5zM1350.2 373.9h8.5v8.5h-8.5zM1357.2 391.7h8.5v8.5h-8.5zM1364.2 404.2h8.5v8.5h-8.5zM1371.1 412.7h8.5v8.5h-8.5zM1378.1 418.6h8.5v8.5h-8.5zM1385.1 422.8h8.5v8.5h-8.5zM1392 425.8h8.5v8.5h-8.5zM1399 428.2h8.5v8.5h-8.5zM1405.9 430h8.5v8.5h-8.5zM1412.9 431.5h8.5v8.5h-8.5zM1419.9 432.6h8.5v8.5h-8.5zM1426.8 433.6h8.5v8.5h-8.5zM1433.8 434.4h8.5v8.5h-8.5zM1440.7 435h8.5v8.5h-8.5zM1447.7 435.5h8.5v8.5h-8.5zM1454.6 435.9h8.5v8.5h-8.5zM1461.6 436.2h8.5v8.5h-8.5zM1468.5 436.4h8.5v8.5h-8.5zM1475.5 436.6h8.5v8.5h-8.5zM1482.5 436.8h8.5v8.5h-8.5zM1489.4 436.9h8.5v8.5h-8.5z"/>
<polyline fill="none" stroke="#f02828" stroke-width="1.0" points="843.7,444.5 850.7,444.5 857.7,444.5 864.8,444.5 871.8,444.5 878.8,444.5 885.8,444.5 892.8,444.5 899.9,444.5 906.9,444.5 913.9,444.5 920.9,444.5 927.9,444.5 935,444.5 942,444.5 949,444.5 956,444.5 963,444.5 970,444.5 977,444.5 984.1,444.5 991.1,444.5 998.1,444.5 1005.1,444.5 1012.1,444.5 1019.1,444.5 1026.1,444.5 1033.1,444.5 1040.1,444.5 1047.1,444.5 1054.1,444.5 1061.1,444.5 1068.1,444.5 1075.1,444.5 1082.1,444.5 1089.1,444.5 1096.1,444.5 1103.1,444.5 1110.1,444.5 1117.1,444.5 1124.1,444.5 1131.1,444.5 1138.1,444.5 1145.1,444.5 1152.1,444.5 1159.1,444.5 1166.1,444.5 1173.1,444.5 1180,444.5 1187,444.4 1194,444.3 1201,444.1 1208,443.6 1215,442.4 1222,440.2 1228.9,436 1235.9,428.7 1242.9,417.1 1249.9,399.8 1256.9,376.2 1263.8,346.6 1270.8,312.7 1277.8,278 1284.8,247 1291.7,224.8 1298.7,215 1305.7,219.8 1312.7,238.7 1319.6,268.1 1326.6,303.1 1333.6,338.5 1340.5,370.1 1347.5,395.7 1354.5,414.5 1361.4,427.3 1368.4,435.2 1375.4,439.8 1382.3,442.3 1389.3,443.5 1396.3,444.1 1403.2,444.3 1410.2,444.4 1417.1,444.5 1424.1,444.5 1431.1,444.5 1438,444.5 1445,444.5 1451.9,444.5 1458.9,444.5 1465.8,444.5 1472.8,444.5 1479.7,444.5 1486.7,444.5 1493.7,444.5"/>
<path fill="#ff0000" d="M838.2 439.5H849.2L843.7 449.5zM845.2 439.5H856.2L850.7 449.5zM852.2 439.5H863.2L857.7 449.5zM859.3 439.5H870.3L864.8 449.5zM866.3 439.5H877.3L871.8 449.5zM873.3 439.5H884.3L878.8 449.5zM880.3 439.5H891.3L885.8 449.5zM887.3 439.5H898.3L892.8 449.5zM894.4 439.5H905.4L899.9 449.5zM901.4 439.5H912.4L906.9 449.5zM908.4 439.5H919.4L913.9 449.5zM915.4 439.5H926.4L920.9 449.5zM922.4 439.5H933.4L927.9 449.5zM929.5 439.5H940.5L935 449.5zM936.5 439.5H947.5L942 449.5zM943.5 439.5H954.5L949 449.5zM950.5 439.5H961.5L956 449.5zM957.5 439.5H968.5L963 449.5zM964.5 439.5H975.5L970 449.5zM971.5 439.5H982.5L977 449.5zM978.6 439.5H989.6L984.1 449.5zM985.6 439.5H996.6L991.1 449.5zM992.6 439.5H1003.6L998.1 449.5zM999.6 439.5H1010.6L1005.1 449.5zM1006.6 439.5H1017.6L1012.1 449.5zM1013.6 439.5H1024.6L1019.1 449.5zM1020.6 439.5H1031.6L1026.1 449.5zM1027.6 439.5H1038.6L1033.1 449.5zM1034.6 439.5H1045.6L1040.1 449.5zM1041.6 439.5H1052.6L1047.1 449.5zM1048.6 439.5H1059.6L1054.1 449.5zM1055.6 439.5H1066.6L1061.1 449.5zM1062.6 439.5H1073.6L1068.1 449.5zM1069.6 439.5H1080.6L1075.1 449.5zM1076.6 439.5H1087.6L1082.1 449.5zM1083.6 439.5H1094.6L1089.1 449.5zM1090.6 439.5H1101.6L1096.1 449.5zM1097.6 439.5H1108.6L1103.1 449.5zM1104.6 439.5H1115.6L1110.1 449.5zM1111.6 439.5H1122.6L1117.1 449.5zM1118.6 439.5H1129.6L1124.1 449.5zM1125.6 439.5H1136.6L1131.1 449.5zM1132.6 439.5H1143.6L1138.1 449.5zM1139.6 439.5H1150.6L1145.1 449.5zM1146.6 439.5H1157.6L1152.1 449.5zM1153.6 439.5H1164.6L1159.1 449.5zM1160.6 439.5H1171.6L1166.1 449.5zM1167.6 439.5H1178.6L1173.1 449.5zM1174.5 439.5H1185.5L1180 449.5zM1181.5 439.4H1192.5L1187 449.4zM1188.5 439.3H1199.5L1194 449.3zM1195.5 439.1H1206.5L1201 449.1zM1202.5 438.6H1213.5L1208 448.6zM1209.5 437.4H1220.5L1215 447.4zM1216.5 435.2H1227.5L1222 445.2zM1223.4 431H1234.4L1228.9 441zM1230.4 423.7H1241.4L1235.9 433.7zM1237.4 412.1H1248.4L1242.9 422.1zM1244.4 394.8H1255.4L1249.9 404.8zM1251.4 371.2H1262.4L1256.9 381.2zM1258.3 341.6H1269.3L1263.8 351.6zM1265.3 307.7H1276.3L1270.8 317.7zM1272.3 273H1283.3L1277.8 283zM1279.3 242H1290.3L1284.8 252zM1286.2 219.8H1297.2L1291.7 229.8zM1293.2 210H1304.2L1298.7 220zM1300.2 214.8H1311.2L1305.7 224.8zM1307.2 233.7H1318.2L1312.7 243.7zM1314.1 263.1H1325.1L1319.6 273.1zM1321.1 298.1H1332.1L1326.6 308.1zM1328.1 333.5H1339.1L1333.6 343.5zM1335 365.1H1346L1340.5 375.1zM1342 390.7H1353L1347.5 400.7zM1349 409.5H1360L1354.5 419.5zM1355.9 422.3H1366.9L1361.4 432.3zM1362.9 430.2H1373.9L1368.4 440.2zM1369.9 434.8H1380.9L1375.4 444.8zM1376.8 437.3H1387.8L1382.3 447.3zM1383.8 438.5H1394.8L1389.3 448.5zM1390.8 439.1H1401.8L1396.3 449.1zM1397.7 439.3H1408.7L1403.2 449.3zM1404.7 439.4H1415.7L1410.2 449.4zM1411.6 439.5H1422.6L1417.1 449.5zM1418.6 439.5H1429.6L1424.1 449.5zM1425.6 439.5H1436.6L1431.1 449.5zM1432.5 439.5H1443.5L1438 449.5zM1439.5 439.5H1450.5L1445 449.5zM1446.4 439.5H1457.4L1451.9 449.5zM1453.4 439.5H1464.4L1458.9 449.5zM1460.3 439.5H1471.3L1465.8 449.5zM1467.3 439.5H1478.3L1472.8 449.5zM1474.2 439.5H1485.2L1479.7 449.5zM1481.2 439.5H1492.2L1486.7 449.5zM1488.2 439.5H1499.2L1493.7 449.5z"/>
<polyline fill="none" stroke="#0000ff" stroke-width="1.0" points="843.7,438.5 850.7,437.9 857.7,437.2 864.8,436.4 871.8,435.5 878.8,434.4 885.8,433.2 892.8,431.7 899.9,430.1 906.9,428.3 913.9,426.3 920.9,424.1 927.9,421.6 935,418.8 942,415.8 949,412.6 956,409 963,405.2 970,401.1 977,396.8 984.1,392.2 991.1,387.4 998.1,382.4 1005.1,377.3 1012.1,372 1019.1,366.5 1026.1,361.1 1033.1,355.6 1040.1,350.2 1047.1,344.9 1054.1,339.7 1061.1,334.7 1068.1,330 1075.1,325.5 1082.1,321.5 1089.1,317.9 1096.1,314.7 1103.1,312 1110.1,309.9 1117.1,308.4 1124.1,307.4 1131.1,307 1138.1,307.2 1145.1,308.1 1152.1,309.5 1159.1,311.6 1166.1,314.2 1173.1,317.3 1180,320.9 1187,324.9 1194,329.3 1201,334 1208,339 1215,344.3 1222,349.6 1228.9,355.1 1235.9,360.6 1242.9,366.2 1249.9,371.6 1256.9,377 1263.8,382.2 1270.8,387.3 1277.8,392.1 1284.8,396.7 1291.7,401.1 1298.7,405.2 1305.7,409 1312.7,412.6 1319.6,415.9 1326.6,418.9 1333.6,421.7 1340.5,424.2 1347.5,426.4 1354.5,428.4 1361.4,430.2 1368.4,431.8 1375.4,433.3 1382.3,434.5 1389.3,435.6 1396.3,436.5 1403.2,437.3 1410.2,438 1417.1,438.6 1424.1,439.1 1431.1,439.5 1438,439.9 1445,440.2 1451.9,440.4 1458.9,440.6 1465.8,440.8 1472.8,440.9 1479.7,441 1486.7,441.1 1493.7,441.2"/>
<path fill="#0000ff" d="M839.2 438.5a4.5 4.5 0 1 0 9.0 0a4.5 4.5 0 1 0 -9.0 0zM846.2 437.9a4.5 4.5 0 1 0 9.0 0a4.5 4.5 0 1 0 -9.0 0zM853.2 437.2a4.5 4.5 0 1 0 9.0 0a4.5 4.5 0 1 0 -9.0 0zM860.3 436.4a4.5 4.5 0 1 0 9.0 0a4.5 4.5 0 1 0 -9.0 0zM867.3 435.5a4.5 4.5 0 1 0 9.0 0a4.5 4.5 0 1 0 -9.0 0zM874.3 434.4a4.5 4.5 0 1 0 9.0 0a4.5 4.5 0 1 0 -9.0 0zM881.3 433.2a4.5 4.5 0 1 0 9.0 0a4.5 4.5 0 1 0 -9.0 0zM888.3 431.7a4.5 4.5 0 1 0 9.0 0a4.5 4.5 0 1 0 -9.0 0zM895.4 430.1a4.5 4.5 0 1 0 9.0 0a4.5 4.5 0 1 0 -9.0 0zM902.4 428.3a4.5 4.5 0 1 0 9.0 0a4.5 4.5 0 1 0 -9.0 0zM909.4 426.3a4.5 4.5 0 1 0 9.0 0a4.5 4.5 0 1 0 -9.0 0zM916.4 424.1a4.5 4.5 0 1 0 9.0 0a4.5 4.5 0 1 0 -9.0 0zM923.4 421.6a4.5 4.5 0 1 0 9.0 0a4.5 4.5 0 1 0 -9.0 0zM930.5 418.8a4.5 4.5 0 1 0 9.0 0a4.5 4.5 0 1 0 -9.0 0zM937.5 415.8a4.5 4.5 0 1 0 9.0 0a4.5 4.5 0 1 0 -9.0 0zM944.5 412.6a4.5 4.5 0 1 0 9.0 0a4.5 4.5 0 1 0 -9.0 0zM951.5 409a4.5 4.5 0 1 0 9.0 0a4.5 4.5 0 1 0 -9.0 0zM958.5 405.2a4.5 4.5 0 1 0 9.0 0a4.5 4.5 0 1 0 -9.0 0zM965.5 401.1a4.5 4.5 0 1 0 9.0 0a4.5 4.5 0 1 0 -9.0 0zM972.5 396.8a4.5 4.5 0 1 0 9.0 0a4.5 4.5 0 1 0 -9.0 0zM979.6 392.2a4.5 4.5 0 1 0 9.0 0a4.5 4.5 0 1 0 -9.0 0zM986.6 387.4a4.5 4.5 0 1 0 9.0 0a4.5 4.5 0 1 0 -9.0 0zM993.6 382.4a4.5 4.5 0 1 0 9.0 0a4.5 4.5 0 1 0 -9.0 0zM1000.6 377.3a4.5 4.5 0 1 0 9.0 0a4.5 4.5 0 1 0 -9.0 0zM1007.6 372a4.5 4.5 0 1 0 9.0 0a4.5 4.5 0 1 0 -9.0 0zM1014.6 366.5a4.5 4.5 0 1 0 9.0 0a4.5 4.5 0 1 0 -9.0 0zM1021.6 361.1a4.5 4.5 0 1 0 9.0 0a4.5 4.5 0 1 0 -9.0 0zM1028.6 355.6a4.5 4.5 0 1 0 9.0 0a4.5 4.5 0 1 0 -9.0 0zM1035.6 350.2a4.5 4.5 0 1 0 9.0 0a4.5 4.5 0 1 0 -9.0 0zM1042.6 344.9a4.5 4.5 0 1 0 9.0 0a4.5 4.5 0 1 0 -9.0 0zM1049.6 339.7a4.5 4.5 0 1 0 9.0 0a4.5 4.5 0 1 0 -9.0 0zM1056.6 334.7a4.5 4.5 0 1 0 9.0 0a4.5 4.5 0 1 0 -9.0 0zM1063.6 330a4.5 4.5 0 1 0 9.0 0a4.5 4.5 0 1 0 -9.0 0zM1070.6 325.5a4.5 4.5 0 1 0 9.0 0a4.5 4.5 0 1 0 -9.0 0zM1077.6 321.5a4.5 4.5 0 1 0 9.0 0a4.5 4.5 0 1 0 -9.0 0zM1084.6 317.9a4.5 4.5 0 1 0 9.0 0a4.5 4.5 0 1 0 -9.0 0zM1091.6 314.7a4.5 4.5 0 1 0 9.0 0a4.5 4.5 0 1 0 -9.0 0zM1098.6 312a4.5 4.5 0 1 0 9.0 0a4.5 4.5 0 1 0 -9.0 0zM1105.6 309.9a4.5 4.5 0 1 0 9.0 0a4.5 4.5 0 1 0 -9.0 0zM1112.6 308.4a4.5 4.5 0 1 0 9.0 0a4.5 4.5 0 1 0 -9.0 0zM1119.6 307.4a4.5 4.5 0 1 0 9.0 0a4.5 4.5 0 1 0 -9.0 0zM1126.6 307a4.5 4.5 0 1 0 9.0 0a4.5 4.5 0 1 0 -9.0 0zM1133.6 307.2a4.5 4.5 0 1 0 9.0 0a4.5 4.5 0 1 0 -9.0 0zM1140.6 308.1a4.5 4.5 0 1 0 9.0 0a4.5 4.5 0 1 0 -9.0 0zM1147.6 309.5a4.5 4.5 0 1 0 9.0 0a4.5 4.5 0 1 0 -9.0 0zM1154.6 311.6a4.5 4.5 0 1 0 9.0 0a4.5 4.5 0 1 0 -9.0 0zM1161.6 314.2a4.5 4.5 0 1 0 9.0 0a4.5 4.5 0 1 0 -9.0 0zM1168.6 317.3a4.5 4.5 0 1 0 9.0 0a4.5 4.5 0 1 0 -9.0 0zM1175.5 320.9a4.5 4.5 0 1 0 9.0 0a4.5 4.5 0 1 0 -9.0 0zM1182.5 324.9a4.5 4.5 0 1 0 9.0 0a4.5 4.5 0 1 0 -9.0 0zM1189.5 329.3a4.5 4.5 0 1 0 9.0 0a4.5 4.5 0 1 0 -9.0 0zM1196.5 334a4.5 4.5 0 1 0 9.0 0a4.5 4.5 0 1 0 -9.0 0zM1203.5 339a4.5 4.5 0 1 0 9.0 0a4.5 4.5 0 1 0 -9.0 0zM1210.5 344.3a4.5 4.5 0 1 0 9.0 0a4.5 4.5 0 1 0 -9.0 0zM1217.5 349.6a4.5 4.5 0 1 0 9.0 0a4.5 4.5 0 1 0 -9.0 0zM1224.4 355.1a4.5 4.5 0 1 0 9.0 0a4.5 4.5 0 1 0 -9.0 0zM1231.4 360.6a4.5 4.5 0 1 0 9.0 0a4.5 4.5 0 1 0 -9.0 0zM1238.4 366.2a4.5 4.5 0 1 0 9.0 0a4.5 4.5 0 1 0 -9.0 0zM1245.4 371.6a4.5 4.5 0 1 0 9.0 0a4.5 4.5 0 1 0 -9.0 0zM1252.4 377a4.5 4.5 0 1 0 9.0 0a4.5 4.5 0 1 0 -9.0 0zM1259.3 382.2a4.5 4.5 0 1 0 9.0 0a4.5 4.5 0 1 0 -9.0 0zM1266.3 387.3a4.5 4.5 0 1 0 9.0 0a4.5 4.5 0 1 0 -9.0 0zM1273.3 392.1a4.5 4.5 0 1 0 9.0 0a4.5 4.5 0 1 0 -9.0 0zM1280.3 396.7a4.5 4.5 0 1 0 9.0 0a4.5 4.5 0 1 0 -9.0 0zM1287.2 401.1a4.5 4.5 0 1 0 9.0 0a4.5 4.5 0 1 0 -9.0 0zM1294.2 405.2a4.5 4.5 0 1 0 9.0 0a4.5 4.5 0 1 0 -9.0 0zM1301.2 409a4.5 4.5 0 1 0 9.0 0a4.5 4.5 0 1 0 -9.0 0zM1308.2 412.6a4.5 4.5 0 1 0 9.0 0a4.5 4.5 0 1 0 -9.0 0zM1315.1 415.9a4.5 4.5 0 1 0 9.0 0a4.5 4.5 0 1 0 -9.0 0zM1322.1 418.9a4.5 4.5 0 1 0 9.0 0a4.5 4.5 0 1 0 -9.0 0zM1329.1 421.7a4.5 4.5 0 1 0 9.0 0a4.5 4.5 0 1 0 -9.0 0zM1336 424.2a4.5 4.5 0 1 0 9.0 0a4.5 4.5 0 1 0 -9.0 0zM1343 426.4a4.5 4.5 0 1 0 9.0 0a4.5 4.5 0 1 0 -9.0 0zM1350 428.4a4.5 4.5 0 1 0 9.0 0a4.5 4.5 0 1 0 -9.0 0zM1356.9 430.2a4.5 4.5 0 1 0 9.0 0a4.5 4.5 0 1 0 -9.0 0zM1363.9 431.8a4.5 4.5 0 1 0 9.0 0a4.5 4.5 0 1 0 -9.0 0zM1370.9 433.3a4.5 4.5 0 1 0 9.0 0a4.5 4.5 0 1 0 -9.0 0zM1377.8 434.5a4.5 4.5 0 1 0 9.0 0a4.5 4.5 0 1 0 -9.0 0zM1384.8 435.6a4.5 4.5 0 1 0 9.0 0a4.5 4.5 0 1 0 -9.0 0zM1391.8 436.5a4.5 4.5 0 1 0 9.0 0a4.5 4.5 0 1 0 -9.0 0zM1398.7 437.3a4.5 4.5 0 1 0 9.0 0a4.5 4.5 0 1 0 -9.0 0zM1405.7 438a4.5 4.5 0 1 0 9.0 0a4.5 4.5 0 1 0 -9.0 0zM1412.6 438.6a4.5 4.5 0 1 0 9.0 0a4.5 4.5 0 1 0 -9.0 0zM1419.6 439.1a4.5 4.5 0 1 0 9.0 0a4.5 4.5 0 1 0 -9.0 0zM1426.6 439.5a4.5 4.5 0 1 0 9.0 0a4.5 4.5 0 1 0 -9.0 0zM1433.5 439.9a4.5 4.5 0 1 0 9.0 0a4.5 4.5 0 1 0 -9.0 0zM1440.5 440.2a4.5 4.5 0 1 0 9.0 0a4.5 4.5 0 1 0 -9.0 0zM1447.4 440.4a4.5 4.5 0 1 0 9.0 0a4.5 4.5 0 1 0 -9.0 0zM1454.4 440.6a4.5 4.5 0 1 0 9.0 0a4.5 4.5 0 1 0 -9.0 0zM1461.3 440.8a4.5 4.5 0 1 0 9.0 0a4.5 4.5 0 1 0 -9.0 0zM1468.3 440.9a4.5 4.5 0 1 0 9.0 0a4.5 4.5 0 1 0 -9.0 0zM1475.2 441a4.5 4.5 0 1 0 9.0 0a4.5 4.5 0 1 0 -9.0 0zM1482.2 441.1a4.5 4.5 0 1 0 9.0 0a4.5 4.5 0 1 0 -9.0 0zM1489.2 441.2a4.5 4.5 0 1 0 9.0 0a4.5 4.5 0 1 0 -9.0 0z"/>
<polyline fill="none" stroke="#00ff00" stroke-width="1.0" points="843.7,441.6 850.7,441.6 857.7,441.6 864.8,441.6 871.8,441.6 878.8,441.6 885.8,441.6 892.8,441.6 899.9,441.6 906.9,441.6 913.9,441.6 920.9,441.6 927.9,441.6 935,441.6 942,441.5 949,441.5 956,441.5 963,441.4 970,441.4 977,441.3 984.1,441.1 991.1,441 998.1,440.7 1005.1,440.5 1012.1,440.1 1019.1,439.6 1026.1,439 1033.1,438.2 1040.1,437.3 1047.1,436.1 1054.1,434.7 1061.1,433 1068.1,431 1075.1,428.6 1082.1,425.9 1089.1,422.7 1096.1,419.2 1103.1,415.1 1110.1,410.7 1117.1,405.8 1124.1,400.6 1131.1,395 1138.1,389.1 1145.1,383 1152.1,376.9 1159.1,370.7 1166.1,364.6 1173.1,358.8 1180,353.4 1187,348.5 1194,344.2 1201,340.6 1208,337.9 1215,336 1222,335.1 1228.9,335.2 1235.9,336.2 1242.9,338.3 1249.9,341.3 1256.9,345.1 1263.8,349.7 1270.8,354.8 1277.8,360.5 1284.8,366.5 1291.7,372.7 1298.7,379 1305.7,385.3 1312.7,391.4 1319.6,397.3 1326.6,402.9 1333.6,408.1 1340.5,412.8 1347.5,417.1 1354.5,421 1361.4,424.4 1368.4,427.4 1375.4,430 1382.3,432.2 1389.3,434.1 1396.3,435.6 1403.2,436.9 1410.2,437.9 1417.1,438.7 1424.1,439.4 1431.1,439.9 1438,440.4 1445,440.7 1451.9,440.9 1458.9,441.1 1465.8,441.2 1472.8,441.3 1479.7,441.4 1486.7,441.5 1493.7,441.5"/>
<path fill="#00ff00" d="M843.7 436.6L849.2 446.6H838.2zM850.7 436.6L856.2 446.6H845.2zM857.7 436.6L863.2 446.6H852.2zM864.8 436.6L870.3 446.6H859.3zM871.8 436.6L877.3 446.6H866.3zM878.8 436.6L884.3 446.6H873.3zM885.8 436.6L891.3 446.6H880.3zM892.8 436.6L898.3 446.6H887.3zM899.9 436.6L905.4 446.6H894.4zM906.9 436.6L912.4 446.6H901.4zM913.9 436.6L919.4 446.6H908.4zM920.9 436.6L926.4 446.6H915.4zM927.9 436.6L933.4 446.6H922.4zM935 436.6L940.5 446.6H929.5zM942 436.5L947.5 446.5H936.5zM949 436.5L954.5 446.5H943.5zM956 436.5L961.5 446.5H950.5zM963 436.4L968.5 446.4H957.5zM970 436.4L975.5 446.4H964.5zM977 436.3L982.5 446.3H971.5zM984.1 436.1L989.6 446.1H978.6zM991.1 436L996.6 446H985.6zM998.1 435.7L1003.6 445.7H992.6zM1005.1 435.5L1010.6 445.5H999.6zM1012.1 435.1L1017.6 445.1H1006.6zM1019.1 434.6L1024.6 444.6H1013.6zM1026.1 434L1031.6 444H1020.6zM1033.1 433.2L1038.6 443.2H1027.6zM1040.1 432.3L1045.6 442.3H1034.6zM1047.1 431.1L1052.6 441.1H1041.6zM1054.1 429.7L1059.6 439.7H1048.6zM1061.1 428L1066.6 438H1055.6zM1068.1 426L1073.6 436H1062.6zM1075.1 423.6L1080.6 433.6H1069.6zM1082.1 420.9L1087.6 430.9H1076.6zM1089.1 417.7L1094.6 427.7H1083.6zM1096.1 414.2L1101.6 424.2H1090.6zM1103.1 410.1L1108.6 420.1H1097.6zM1110.1 405.7L1115.6 415.7H1104.6zM1117.1 400.8L1122.6 410.8H1111.6zM1124.1 395.6L1129.6 405.6H1118.6zM1131.1 390L1136.6 400H1125.6zM1138.1 384.1L1143.6 394.1H1132.6zM1145.1 378L1150.6 388H1139.6zM1152.1 371.9L1157.6 381.9H1146.6zM1159.1 365.7L1164.6 375.7H1153.6zM1166.1 359.6L1171.6 369.6H1160.6zM1173.1 353.8L1178.6 363.8H1167.6zM1180 348.4L1185.5 358.4H1174.5zM1187 343.5L1192.5 353.5H1181.5zM1194 339.2L1199.5 349.2H1188.5zM1201 335.6L1206.5 345.6H1195.5zM1208 332.9L1213.5 342.9H1202.5zM1215 331L1220.5 341H1209.5zM1222 330.1L1227.5 340.1H1216.5zM1228.9 330.2L1234.4 340.2H1223.4zM1235.9 331.2L1241.4 341.2H1230.4zM1242.9 333.3L1248.4 343.3H1237.4zM1249.9 336.3L1255.4 346.3H1244.4zM1256.9 340.1L1262.4 350.1H1251.4zM1263.8 344.7L1269.3 354.7H1258.3zM1270.8 349.8L1276.3 359.8H1265.3zM1277.8 355.5L1283.3 365.5H1272.3zM1284.8 361.5L1290.3 371.5H1279.3zM1291.7 367.7L1297.2 377.7H1286.2zM1298.7 374L1304.2 384H1293.2zM1305.7 380.3L1311.2 390.3H1300.2zM1312.7 386.4L1318.2 396.4H1307.2zM1319.6 392.3L1325.1 402.3H1314.1zM1326.6 397.9L1332.1 407.9H1321.1zM1333.6 403.1L1339.1 413.1H1328.1zM1340.5 407.8L1346 417.8H1335zM1347.5 412.1L1353 422.1H1342zM1354.5 416L1360 426H1349zM1361.4 419.4L1366.9 429.4H1355.9zM1368.4 422.4L1373.9 432.4H1362.9zM1375.4 425L1380.9 435H1369.9zM1382.3 427.2L1387.8 437.2H1376.8zM1389.3 429.1L1394.8 439.1H1383.8zM1396.3 430.6L1401.8 440.6H1390.8zM1403.2 431.9L1408.7 441.9H1397.7zM1410.2 432.9L1415.7 442.9H1404.7zM1417.1 433.7L1422.6 443.7H1411.6zM1424.1 434.4L1429.6 444.4H1418.6zM1431.1 434.9L1436.6 444.9H1425.6zM1438 435.4L1443.5 445.4H1432.5zM1445 435.7L1450.5 445.7H1439.5zM1451.9 435.9L1457.4 445.9H1446.4zM1458.9 436.1L1464.4 446.1H1453.4zM1465.8 436.2L1471.3 446.2H1460.3zM1472.8 436.3L1478.3 446.3H1467.3zM1479.7 436.4L1485.2 446.4H1474.2zM1486.7 436.5L1492.2 446.5H1481.2zM1493.7 436.5L1499.2 446.5H1488.2z"/>
</g>
<g font-family='"Liberation Serif", serif' font-size="30.5" fill="#000" text-anchor="middle">
<text x="846.5" y="476.3">420</text>
<text x="996.2" y="476.3">450</text>
<text x="1145.8" y="476.3">480</text>
<text x="1295.5" y="476.3">510</text>
<text x="1445.1" y="476.3">540</text>
</g>
<text x="1061.5" y="518.1" font-family='"Liberation Serif", serif' font-size="31" fill="#000">Raman shift (cm<tspan font-size="18.5" dy="-12.5">-1</tspan><tspan dy="12.5">)</tspan></text>
<text transform="translate(806.7,290.6) rotate(-90)" x="0" y="0" font-family='"Liberation Serif", serif' font-size="31" fill="#000">Intensity(AU)</text>
<rect x="876.4" y="15.4" width="159.2" height="84.4" fill="#fff" stroke="#555" stroke-width="1.4"/>
<text x="889.7" y="49.7" font-family='"Liberation Serif", serif' font-size="29" fill="#000">CO<tspan font-size="17" dy="10">2</tspan><tspan dy="-10">: 2 sccm</tspan></text>
<text x="890.8" y="93.9" font-family='"Liberation Serif", serif' font-size="29" fill="#000">Xc : 49%</text>
<text x="872.8" y="308.9" font-family='"Liberation Serif", serif' font-size="52" fill="#000">(b)</text>
<path d="M846.5 14.2H1495" fill="none" stroke="#000" stroke-width="2.2" stroke-linecap="square"/>
</g>
<g id="panelc">
<rect x="62.2" y="567.2" width="646.8" height="429.2" fill="none" stroke="#000" stroke-width="2.2"/>
<path d="M136.8 995.3v-4.0M136.8 568.3v4.0M211.5 995.3v-8.0M211.5 568.3v8.0M286.1 995.3v-4.0M286.1 568.3v4.0M360.7 995.3v-8.0M360.7 568.3v8.0M435.4 995.3v-4.0M435.4 568.3v4.0M510 995.3v-8.0M510 568.3v8.0M584.6 995.3v-4.0M584.6 568.3v4.0M659.2 995.3v-8.0M659.2 568.3v8.0M63.3 935h4.0M707.9 935h-4.0M63.3 873.7h8.0M707.9 873.7h-8.0M63.3 812.3h4.0M707.9 812.3h-4.0M63.3 751h8.0M707.9 751h-8.0M63.3 689.6h4.0M707.9 689.6h-4.0M63.3 628.3h8.0M707.9 628.3h-8.0" stroke="#000" stroke-width="2.2" fill="none"/>
<g clip-path="url(#clipc)">
<polyline fill="none" stroke="#505050" stroke-width="0.9" points="59.4,967.9 66.4,965.4 73.4,962.8 80.4,960.1 87.4,957.1 94.4,954.1 101.4,950.8 108.4,947.4 115.4,943.8 122.4,940.1 129.4,936.2 136.4,932.2 143.4,928 150.4,923.7 157.4,919.3 164.4,914.8 171.4,910.2 178.4,905.5 185.4,900.8 192.4,896 199.4,891.1 206.4,886.3 213.4,881.3 220.4,876.4 227.4,871.5 234.3,866.5 241.3,861.5 248.3,856.6 255.3,851.6 262.3,846.5 269.3,841.4 276.3,836.3 283.2,831.1 290.2,825.7 297.2,820.2 304.2,814.6 311.2,808.8 318.2,802.9 325.1,796.7 332.1,790.4 339.1,783.8 346.1,777.2 353,770.4 360,763.6 367,756.8 374,750.1 380.9,743.6 387.9,737.4 394.9,731.6 401.8,726.4 408.8,721.9 415.8,718.2 422.7,715.4 429.7,713.6 436.7,713 443.6,713.4 450.6,714.9 457.6,716.9 464.5,718.7 471.5,719 478.4,715.9 485.4,707.4 492.4,693 499.3,674.1 506.3,655.4 513.2,643.4 520.2,644.5 527.1,661.8 534.1,693.9 541,735.1 548,778.5 554.9,817.9 561.9,850.1 568.8,874.7 575.8,893 582.7,906.8 589.7,917.7 596.6,926.8 603.6,934.6 610.5,941.6 617.5,947.8 624.4,953.3 631.4,958.3 638.3,962.6 645.2,966.4 652.2,969.8 659.1,972.8 666,975.3 673,977.6 679.9,979.6 686.9,981.3 693.8,982.8 700.7,984.2 707.7,985.3"/>
<path fill="#000" d="M55.1 963.6h8.5v8.5h-8.5zM62.1 961.2h8.5v8.5h-8.5zM69.1 958.6h8.5v8.5h-8.5zM76.2 955.8h8.5v8.5h-8.5zM83.2 952.9h8.5v8.5h-8.5zM90.2 949.8h8.5v8.5h-8.5zM97.2 946.5h8.5v8.5h-8.5zM104.2 943.1h8.5v8.5h-8.5zM111.2 939.6h8.5v8.5h-8.5zM118.2 935.8h8.5v8.5h-8.5zM125.2 931.9h8.5v8.5h-8.5zM132.2 927.9h8.5v8.5h-8.5zM139.2 923.8h8.5v8.5h-8.5zM146.2 919.5h8.5v8.5h-8.5zM153.2 915.1h8.5v8.5h-8.5zM160.2 910.6h8.5v8.5h-8.5zM167.2 906h8.5v8.5h-8.5zM174.2 901.3h8.5v8.5h-8.5zM181.2 896.5h8.5v8.5h-8.5zM188.2 891.7h8.5v8.5h-8.5zM195.1 886.9h8.5v8.5h-8.5zM202.1 882h8.5v8.5h-8.5zM209.1 877.1h8.5v8.5h-8.5zM216.1 872.2h8.5v8.5h-8.5zM223.1 867.2h8.5v8.5h-8.5zM230.1 862.3h8.5v8.5h-8.5zM237.1 857.3h8.5v8.5h-8.5zM244.1 852.3h8.5v8.5h-8.5zM251.1 847.3h8.5v8.5h-8.5zM258 842.3h8.5v8.5h-8.5zM265 837.2h8.5v8.5h-8.5zM272 832h8.5v8.5h-8.5zM279 826.8h8.5v8.5h-8.5zM286 821.5h8.5v8.5h-8.5zM293 816h8.5v8.5h-8.5zM299.9 810.4h8.5v8.5h-8.5zM306.9 804.6h8.5v8.5h-8.5zM313.9 798.6h8.5v8.5h-8.5zM320.9 792.5h8.5v8.5h-8.5zM327.9 786.1h8.5v8.5h-8.5zM334.8 779.6h8.5v8.5h-8.5zM341.8 772.9h8.5v8.5h-8.5zM348.8 766.2h8.5v8.5h-8.5zM355.8 759.3h8.5v8.5h-8.5zM362.7 752.5h8.5v8.5h-8.5zM369.7 745.8h8.5v8.5h-8.5zM376.7 739.3h8.5v8.5h-8.5zM383.6 733.1h8.5v8.5h-8.5zM390.6 727.4h8.5v8.5h-8.5zM397.6 722.2h8.5v8.5h-8.5zM404.6 717.6h8.5v8.5h-8.5zM411.5 713.9h8.5v8.5h-8.5zM418.5 711.1h8.5v8.5h-8.5zM425.5 709.4h8.5v8.5h-8.5zM432.4 708.7h8.5v8.5h-8.5zM439.4 709.2h8.5v8.5h-8.5zM446.3 710.6h8.5v8.5h-8.5zM453.3 712.7h8.5v8.5h-8.5zM460.3 714.5h8.5v8.5h-8.5zM467.2 714.8h8.5v8.5h-8.5zM474.2 711.6h8.5v8.5h-8.5zM481.1 703.2h8.5v8.5h-8.5zM488.1 688.7h8.5v8.5h-8.5zM495.1 669.9h8.5v8.5h-8.5zM502 651.2h8.5v8.5h-8.5zM509 639.2h8.5v8.5h-8.5zM515.9 640.2h8.5v8.5h-8.5zM522.9 657.5h8.5v8.5h-8.5zM529.8 689.6h8.5v8.5h-8.5zM536.8 730.9h8.5v8.5h-8.5zM543.7 774.2h8.5v8.5h-8.5zM550.7 813.6h8.5v8.5h-8.5zM557.6 845.9h8.5v8.5h-8.5zM564.6 870.5h8.5v8.5h-8.5zM571.5 888.7h8.5v8.5h-8.5zM578.5 902.5h8.5v8.5h-8.5zM585.4 913.4h8.5v8.5h-8.5zM592.4 922.5h8.5v8.5h-8.5zM599.3 930.4h8.5v8.5h-8.5zM606.3 937.4h8.5v8.5h-8.5zM613.2 943.6h8.5v8.5h-8.5zM620.2 949.1h8.5v8.5h-8.5zM627.1 954h8.5v8.5h-8.5zM634 958.4h8.5v8.5h-8.5zM641 962.2h8.5v8.5h-8.5zM647.9 965.6h8.5v8.5h-8.5zM654.9 968.5h8.5v8.5h-8.5zM661.8 971.1h8.5v8.5h-8.5zM668.7 973.4h8.5v8.5h-8.5zM675.7 975.3h8.5v8.5h-8.5zM682.6 977.1h8.5v8.5h-8.5zM689.5 978.6h8.5v8.5h-8.5zM696.5 979.9h8.5v8.5h-8.5zM703.4 981.1h8.5v8.5h-8.5z"/>
<polyline fill="none" stroke="#f02828" stroke-width="1.0" points="59.4,996.9 66.4,996.9 73.4,996.9 80.4,996.9 87.4,996.9 94.4,996.9 101.4,996.9 108.4,996.9 115.4,996.9 122.4,996.9 129.4,996.9 136.4,996.9 143.4,996.9 150.4,996.9 157.4,996.9 164.4,996.9 171.4,996.9 178.4,996.9 185.4,996.9 192.4,996.9 199.4,996.9 206.4,996.9 213.4,996.9 220.4,996.9 227.4,996.9 234.3,996.9 241.3,996.9 248.3,996.9 255.3,996.9 262.3,996.9 269.3,996.9 276.3,996.9 283.2,996.9 290.2,996.9 297.2,996.9 304.2,996.9 311.2,996.9 318.2,996.9 325.1,996.9 332.1,996.9 339.1,996.9 346.1,996.9 353,996.9 360,996.9 367,996.9 374,996.9 380.9,996.9 387.9,996.9 394.9,996.9 401.8,996.9 408.8,996.9 415.8,996.9 422.7,996.9 429.7,996.9 436.7,996.8 443.6,996.7 450.6,996.2 457.6,995.1 464.5,992.4 471.5,986.7 478.4,976.2 485.4,959.2 492.4,935.1 499.3,905.5 506.3,875.3 513.2,851.1 520.2,839.4 527.1,843.8 534.1,862.8 541,891.1 548,921.7 554.9,948.8 561.9,969.2 568.8,982.5 575.8,990.2 582.7,994.1 589.7,995.8 596.6,996.5 603.6,996.8 610.5,996.9 617.5,996.9 624.4,996.9 631.4,996.9 638.3,996.9 645.2,996.9 652.2,996.9 659.1,996.9 666,996.9 673,996.9 679.9,996.9 686.9,996.9 693.8,996.9 700.7,996.9 707.7,996.9"/>
<path fill="#ff0000" d="M53.9 991.9H64.9L59.4 1001.9zM60.9 991.9H71.9L66.4 1001.9zM67.9 991.9H78.9L73.4 1001.9zM74.9 991.9H85.9L80.4 1001.9zM81.9 991.9H92.9L87.4 1001.9zM88.9 991.9H99.9L94.4 1001.9zM95.9 991.9H106.9L101.4 1001.9zM102.9 991.9H113.9L108.4 1001.9zM109.9 991.9H120.9L115.4 1001.9zM116.9 991.9H127.9L122.4 1001.9zM123.9 991.9H134.9L129.4 1001.9zM130.9 991.9H141.9L136.4 1001.9zM137.9 991.9H148.9L143.4 1001.9zM144.9 991.9H155.9L150.4 1001.9zM151.9 991.9H162.9L157.4 1001.9zM158.9 991.9H169.9L164.4 1001.9zM165.9 991.9H176.9L171.4 1001.9zM172.9 991.9H183.9L178.4 1001.9zM179.9 991.9H190.9L185.4 1001.9zM186.9 991.9H197.9L192.4 1001.9zM193.9 991.9H204.9L199.4 1001.9zM200.9 991.9H211.9L206.4 1001.9zM207.9 991.9H218.9L213.4 1001.9zM214.9 991.9H225.9L220.4 1001.9zM221.9 991.9H232.9L227.4 1001.9zM228.8 991.9H239.8L234.3 1001.9zM235.8 991.9H246.8L241.3 1001.9zM242.8 991.9H253.8L248.3 1001.9zM249.8 991.9H260.8L255.3 1001.9zM256.8 991.9H267.8L262.3 1001.9zM263.8 991.9H274.8L269.3 1001.9zM270.8 991.9H281.8L276.3 1001.9zM277.7 991.9H288.7L283.2 1001.9zM284.7 991.9H295.7L290.2 1001.9zM291.7 991.9H302.7L297.2 1001.9zM298.7 991.9H309.7L304.2 1001.9zM305.7 991.9H316.7L311.2 1001.9zM312.7 991.9H323.7L318.2 1001.9zM319.6 991.9H330.6L325.1 1001.9zM326.6 991.9H337.6L332.1 1001.9zM333.6 991.9H344.6L339.1 1001.9zM340.6 991.9H351.6L346.1 1001.9zM347.5 991.9H358.5L353 1001.9zM354.5 991.9H365.5L360 1001.9zM361.5 991.9H372.5L367 1001.9zM368.5 991.9H379.5L374 1001.9zM375.4 991.9H386.4L380.9 1001.9zM382.4 991.9H393.4L387.9 1001.9zM389.4 991.9H400.4L394.9 1001.9zM396.3 991.9H407.3L401.8 1001.9zM403.3 991.9H414.3L408.8 1001.9zM410.3 991.9H421.3L415.8 1001.9zM417.2 991.9H428.2L422.7 1001.9zM424.2 991.9H435.2L429.7 1001.9zM431.2 991.8H442.2L436.7 1001.8zM438.1 991.7H449.1L443.6 1001.7zM445.1 991.2H456.1L450.6 1001.2zM452.1 990.1H463.1L457.6 1000.1zM459 987.4H470L464.5 997.4zM466 981.7H477L471.5 991.7zM472.9 971.2H483.9L478.4 981.2zM479.9 954.2H490.9L485.4 964.2zM486.9 930.1H497.9L492.4 940.1zM493.8 900.5H504.8L499.3 910.5zM500.8 870.3H511.8L506.3 880.3zM507.7 846.1H518.7L513.2 856.1zM514.7 834.4H525.7L520.2 844.4zM521.6 838.8H532.6L527.1 848.8zM528.6 857.8H539.6L534.1 867.8zM535.5 886.1H546.5L541 896.1zM542.5 916.7H553.5L548 926.7zM549.4 943.8H560.4L554.9 953.8zM556.4 964.2H567.4L561.9 974.2zM563.3 977.5H574.3L568.8 987.5zM570.3 985.2H581.3L575.8 995.2zM577.2 989.1H588.2L582.7 999.1zM584.2 990.8H595.2L589.7 1000.8zM591.1 991.5H602.1L596.6 1001.5zM598.1 991.8H609.1L603.6 1001.8zM605 991.9H616L610.5 1001.9zM612 991.9H623L617.5 1001.9zM618.9 991.9H629.9L624.4 1001.9zM625.9 991.9H636.9L631.4 1001.9zM632.8 991.9H643.8L638.3 1001.9zM639.7 991.9H650.7L645.2 1001.9zM646.7 991.9H657.7L652.2 1001.9zM653.6 991.9H664.6L659.1 1001.9zM660.5 991.9H671.5L666 1001.9zM667.5 991.9H678.5L673 1001.9zM674.4 991.9H685.4L679.9 1001.9zM681.4 991.9H692.4L686.9 1001.9zM688.3 991.9H699.3L693.8 1001.9zM695.2 991.9H706.2L700.7 1001.9zM702.2 991.9H713.2L707.7 1001.9z"/>
<polyline fill="none" stroke="#0000ff" stroke-width="1.0" points="59.4,968 66.4,965.5 73.4,962.9 80.4,960.2 87.4,957.3 94.4,954.2 101.4,950.9 108.4,947.5 115.4,944 122.4,940.3 129.4,936.4 136.4,932.4 143.4,928.3 150.4,924.1 157.4,919.7 164.4,915.3 171.4,910.7 178.4,906.2 185.4,901.5 192.4,896.9 199.4,892.2 206.4,887.6 213.4,883 220.4,878.4 227.4,873.9 234.3,869.6 241.3,865.3 248.3,861.3 255.3,857.4 262.3,853.6 269.3,850.2 276.3,846.9 283.2,843.9 290.2,841.3 297.2,838.9 304.2,836.8 311.2,835 318.2,833.6 325.1,832.5 332.1,831.8 339.1,831.4 346.1,831.4 353,831.8 360,832.6 367,833.7 374,835.1 380.9,836.9 387.9,839.1 394.9,841.5 401.8,844.3 408.8,847.3 415.8,850.6 422.7,854.2 429.7,857.9 436.7,861.9 443.6,866.1 450.6,870.4 457.6,874.8 464.5,879.3 471.5,883.9 478.4,888.6 485.4,893.2 492.4,897.9 499.3,902.6 506.3,907.3 513.2,911.9 520.2,916.4 527.1,920.9 534.1,925.2 541,929.4 548,933.6 554.9,937.5 561.9,941.4 568.8,945 575.8,948.6 582.7,951.9 589.7,955.1 596.6,958.2 603.6,961.1 610.5,963.8 617.5,966.3 624.4,968.7 631.4,970.9 638.3,973 645.2,975 652.2,976.8 659.1,978.4 666,980 673,981.4 679.9,982.7 686.9,983.8 693.8,984.9 700.7,985.9 707.7,986.8"/>
<path fill="#0000ff" d="M54.9 968a4.5 4.5 0 1 0 9.0 0a4.5 4.5 0 1 0 -9.0 0zM61.9 965.5a4.5 4.5 0 1 0 9.0 0a4.5 4.5 0 1 0 -9.0 0zM68.9 962.9a4.5 4.5 0 1 0 9.0 0a4.5 4.5 0 1 0 -9.0 0zM75.9 960.2a4.5 4.5 0 1 0 9.0 0a4.5 4.5 0 1 0 -9.0 0zM82.9 957.3a4.5 4.5 0 1 0 9.0 0a4.5 4.5 0 1 0 -9.0 0zM89.9 954.2a4.5 4.5 0 1 0 9.0 0a4.5 4.5 0 1 0 -9.0 0zM96.9 950.9a4.5 4.5 0 1 0 9.0 0a4.5 4.5 0 1 0 -9.0 0zM103.9 947.5a4.5 4.5 0 1 0 9.0 0a4.5 4.5 0 1 0 -9.0 0zM110.9 944a4.5 4.5 0 1 0 9.0 0a4.5 4.5 0 1 0 -9.0 0zM117.9 940.3a4.5 4.5 0 1 0 9.0 0a4.5 4.5 0 1 0 -9.0 0zM124.9 936.4a4.5 4.5 0 1 0 9.0 0a4.5 4.5 0 1 0 -9.0 0zM131.9 932.4a4.5 4.5 0 1 0 9.0 0a4.5 4.5 0 1 0 -9.0 0zM138.9 928.3a4.5 4.5 0 1 0 9.0 0a4.5 4.5 0 1 0 -9.0 0zM145.9 924.1a4.5 4.5 0 1 0 9.0 0a4.5 4.5 0 1 0 -9.0 0zM152.9 919.7a4.5 4.5 0 1 0 9.0 0a4.5 4.5 0 1 0 -9.0 0zM159.9 915.3a4.5 4.5 0 1 0 9.0 0a4.5 4.5 0 1 0 -9.0 0zM166.9 910.7a4.5 4.5 0 1 0 9.0 0a4.5 4.5 0 1 0 -9.0 0zM173.9 906.2a4.5 4.5 0 1 0 9.0 0a4.5 4.5 0 1 0 -9.0 0zM180.9 901.5a4.5 4.5 0 1 0 9.0 0a4.5 4.5 0 1 0 -9.0 0zM187.9 896.9a4.5 4.5 0 1 0 9.0 0a4.5 4.5 0 1 0 -9.0 0zM194.9 892.2a4.5 4.5 0 1 0 9.0 0a4.5 4.5 0 1 0 -9.0 0zM201.9 887.6a4.5 4.5 0 1 0 9.0 0a4.5 4.5 0 1 0 -9.0 0zM208.9 883a4.5 4.5 0 1 0 9.0 0a4.5 4.5 0 1 0 -9.0 0zM215.9 878.4a4.5 4.5 0 1 0 9.0 0a4.5 4.5 0 1 0 -9.0 0zM222.9 873.9a4.5 4.5 0 1 0 9.0 0a4.5 4.5 0 1 0 -9.0 0zM229.8 869.6a4.5 4.5 0 1 0 9.0 0a4.5 4.5 0 1 0 -9.0 0zM236.8 865.3a4.5 4.5 0 1 0 9.0 0a4.5 4.5 0 1 0 -9.0 0zM243.8 861.3a4.5 4.5 0 1 0 9.0 0a4.5 4.5 0 1 0 -9.0 0zM250.8 857.4a4.5 4.5 0 1 0 9.0 0a4.5 4.5 0 1 0 -9.0 0zM257.8 853.6a4.5 4.5 0 1 0 9.0 0a4.5 4.5 0 1 0 -9.0 0zM264.8 850.2a4.5 4.5 0 1 0 9.0 0a4.5 4.5 0 1 0 -9.0 0zM271.8 846.9a4.5 4.5 0 1 0 9.0 0a4.5 4.5 0 1 0 -9.0 0zM278.7 843.9a4.5 4.5 0 1 0 9.0 0a4.5 4.5 0 1 0 -9.0 0zM285.7 841.3a4.5 4.5 0 1 0 9.0 0a4.5 4.5 0 1 0 -9.0 0zM292.7 838.9a4.5 4.5 0 1 0 9.0 0a4.5 4.5 0 1 0 -9.0 0zM299.7 836.8a4.5 4.5 0 1 0 9.0 0a4.5 4.5 0 1 0 -9.0 0zM306.7 835a4.5 4.5 0 1 0 9.0 0a4.5 4.5 0 1 0 -9.0 0zM313.7 833.6a4.5 4.5 0 1 0 9.0 0a4.5 4.5 0 1 0 -9.0 0zM320.6 832.5a4.5 4.5 0 1 0 9.0 0a4.5 4.5 0 1 0 -9.0 0zM327.6 831.8a4.5 4.5 0 1 0 9.0 0a4.5 4.5 0 1 0 -9.0 0zM334.6 831.4a4.5 4.5 0 1 0 9.0 0a4.5 4.5 0 1 0 -9.0 0zM341.6 831.4a4.5 4.5 0 1 0 9.0 0a4.5 4.5 0 1 0 -9.0 0zM348.5 831.8a4.5 4.5 0 1 0 9.0 0a4.5 4.5 0 1 0 -9.0 0zM355.5 832.6a4.5 4.5 0 1 0 9.0 0a4.5 4.5 0 1 0 -9.0 0zM362.5 833.7a4.5 4.5 0 1 0 9.0 0a4.5 4.5 0 1 0 -9.0 0zM369.5 835.1a4.5 4.5 0 1 0 9.0 0a4.5 4.5 0 1 0 -9.0 0zM376.4 836.9a4.5 4.5 0 1 0 9.0 0a4.5 4.5 0 1 0 -9.0 0zM383.4 839.1a4.5 4.5 0 1 0 9.0 0a4.5 4.5 0 1 0 -9.0 0zM390.4 841.5a4.5 4.5 0 1 0 9.0 0a4.5 4.5 0 1 0 -9.0 0zM397.3 844.3a4.5 4.5 0 1 0 9.0 0a4.5 4.5 0 1 0 -9.0 0zM404.3 847.3a4.5 4.5 0 1 0 9.0 0a4.5 4.5 0 1 0 -9.0 0zM411.3 850.6a4.5 4.5 0 1 0 9.0 0a4.5 4.5 0 1 0 -9.0 0zM418.2 854.2a4.5 4.5 0 1 0 9.0 0a4.5 4.5 0 1 0 -9.0 0zM425.2 857.9a4.5 4.5 0 1 0 9.0 0a4.5 4.5 0 1 0 -9.0 0zM432.2 861.9a4.5 4.5 0 1 0 9.0 0a4.5 4.5 0 1 0 -9.0 0zM439.1 866.1a4.5 4.5 0 1 0 9.0 0a4.5 4.5 0 1 0 -9.0 0zM446.1 870.4a4.5 4.5 0 1 0 9.0 0a4.5 4.5 0 1 0 -9.0 0zM453.1 874.8a4.5 4.5 0 1 0 9.0 0a4.5 4.5 0 1 0 -9.0 0zM460 879.3a4.5 4.5 0 1 0 9.0 0a4.5 4.5 0 1 0 -9.0 0zM467 883.9a4.5 4.5 0 1 0 9.0 0a4.5 4.5 0 1 0 -9.0 0zM473.9 888.6a4.5 4.5 0 1 0 9.0 0a4.5 4.5 0 1 0 -9.0 0zM480.9 893.2a4.5 4.5 0 1 0 9.0 0a4.5 4.5 0 1 0 -9.0 0zM487.9 897.9a4.5 4.5 0 1 0 9.0 0a4.5 4.5 0 1 0 -9.0 0zM494.8 902.6a4.5 4.5 0 1 0 9.0 0a4.5 4.5 0 1 0 -9.0 0zM501.8 907.3a4.5 4.5 0 1 0 9.0 0a4.5 4.5 0 1 0 -9.0 0zM508.7 911.9a4.5 4.5 0 1 0 9.0 0a4.5 4.5 0 1 0 -9.0 0zM515.7 916.4a4.5 4.5 0 1 0 9.0 0a4.5 4.5 0 1 0 -9.0 0zM522.6 920.9a4.5 4.5 0 1 0 9.0 0a4.5 4.5 0 1 0 -9.0 0zM529.6 925.2a4.5 4.5 0 1 0 9.0 0a4.5 4.5 0 1 0 -9.0 0zM536.5 929.4a4.5 4.5 0 1 0 9.0 0a4.5 4.5 0 1 0 -9.0 0zM543.5 933.6a4.5 4.5 0 1 0 9.0 0a4.5 4.5 0 1 0 -9.0 0zM550.4 937.5a4.5 4.5 0 1 0 9.0 0a4.5 4.5 0 1 0 -9.0 0zM557.4 941.4a4.5 4.5 0 1 0 9.0 0a4.5 4.5 0 1 0 -9.0 0zM564.3 945a4.5 4.5 0 1 0 9.0 0a4.5 4.5 0 1 0 -9.0 0zM571.3 948.6a4.5 4.5 0 1 0 9.0 0a4.5 4.5 0 1 0 -9.0 0zM578.2 951.9a4.5 4.5 0 1 0 9.0 0a4.5 4.5 0 1 0 -9.0 0zM585.2 955.1a4.5 4.5 0 1 0 9.0 0a4.5 4.5 0 1 0 -9.0 0zM592.1 958.2a4.5 4.5 0 1 0 9.0 0a4.5 4.5 0 1 0 -9.0 0zM599.1 961.1a4.5 4.5 0 1 0 9.0 0a4.5 4.5 0 1 0 -9.0 0zM606 963.8a4.5 4.5 0 1 0 9.0 0a4.5 4.5 0 1 0 -9.0 0zM613 966.3a4.5 4.5 0 1 0 9.0 0a4.5 4.5 0 1 0 -9.0 0zM619.9 968.7a4.5 4.5 0 1 0 9.0 0a4.5 4.5 0 1 0 -9.0 0zM626.9 970.9a4.5 4.5 0 1 0 9.0 0a4.5 4.5 0 1 0 -9.0 0zM633.8 973a4.5 4.5 0 1 0 9.0 0a4.5 4.5 0 1 0 -9.0 0zM640.7 975a4.5 4.5 0 1 0 9.0 0a4.5 4.5 0 1 0 -9.0 0zM647.7 976.8a4.5 4.5 0 1 0 9.0 0a4.5 4.5 0 1 0 -9.0 0zM654.6 978.4a4.5 4.5 0 1 0 9.0 0a4.5 4.5 0 1 0 -9.0 0zM661.5 980a4.5 4.5 0 1 0 9.0 0a4.5 4.5 0 1 0 -9.0 0zM668.5 981.4a4.5 4.5 0 1 0 9.0 0a4.5 4.5 0 1 0 -9.0 0zM675.4 982.7a4.5 4.5 0 1 0 9.0 0a4.5 4.5 0 1 0 -9.0 0zM682.4 983.8a4.5 4.5 0 1 0 9.0 0a4.5 4.5 0 1 0 -9.0 0zM689.3 984.9a4.5 4.5 0 1 0 9.0 0a4.5 4.5 0 1 0 -9.0 0zM696.2 985.9a4.5 4.5 0 1 0 9.0 0a4.5 4.5 0 1 0 -9.0 0zM703.2 986.8a4.5 4.5 0 1 0 9.0 0a4.5 4.5 0 1 0 -9.0 0z"/>
<polyline fill="none" stroke="#00ff00" stroke-width="1.0" points="59.4,994 66.4,994 73.4,994 80.4,994 87.4,994 94.4,994 101.4,994 108.4,994 115.4,994 122.4,994 129.4,994 136.4,994 143.4,994 150.4,993.9 157.4,993.9 164.4,993.9 171.4,993.8 178.4,993.8 185.4,993.7 192.4,993.6 199.4,993.4 206.4,993.2 213.4,992.9 220.4,992.6 227.4,992.2 234.3,991.6 241.3,990.9 248.3,990.1 255.3,989 262.3,987.7 269.3,986.2 276.3,984.3 283.2,982.1 290.2,979.5 297.2,976.5 304.2,973.1 311.2,969.1 318.2,964.6 325.1,959.6 332.1,954 339.1,947.9 346.1,941.3 353,934.2 360,926.7 367,918.8 374,910.7 380.9,902.5 387.9,894.2 394.9,886 401.8,878.1 408.8,870.5 415.8,863.6 422.7,857.2 429.7,851.8 436.7,847.2 443.6,843.7 450.6,841.3 457.6,840.1 464.5,840.2 471.5,841.5 478.4,844.2 485.4,848 492.4,853.1 499.3,859.1 506.3,866 513.2,873.6 520.2,881.7 527.1,890.2 534.1,898.8 541,907.5 548,916.1 554.9,924.5 561.9,932.4 568.8,940 575.8,947 582.7,953.5 589.7,959.4 596.6,964.6 603.6,969.3 610.5,973.4 617.5,977 624.4,980.1 631.4,982.7 638.3,984.9 645.2,986.8 652.2,988.3 659.1,989.5 666,990.5 673,991.3 679.9,991.9 686.9,992.4 693.8,992.8 700.7,993.1 707.7,993.4"/>
<path fill="#00ff00" d="M59.4 989L64.9 999H53.9zM66.4 989L71.9 999H60.9zM73.4 989L78.9 999H67.9zM80.4 989L85.9 999H74.9zM87.4 989L92.9 999H81.9zM94.4 989L99.9 999H88.9zM101.4 989L106.9 999H95.9zM108.4 989L113.9 999H102.9zM115.4 989L120.9 999H109.9zM122.4 989L127.9 999H116.9zM129.4 989L134.9 999H123.9zM136.4 989L141.9 999H130.9zM143.4 989L148.9 999H137.9zM150.4 988.9L155.9 998.9H144.9zM157.4 988.9L162.9 998.9H151.9zM164.4 988.9L169.9 998.9H158.9zM171.4 988.8L176.9 998.8H165.9zM178.4 988.8L183.9 998.8H172.9zM185.4 988.7L190.9 998.7H179.9zM192.4 988.6L197.9 998.6H186.9zM199.4 988.4L204.9 998.4H193.9zM206.4 988.2L211.9 998.2H200.9zM213.4 987.9L218.9 997.9H207.9zM220.4 987.6L225.9 997.6H214.9zM227.4 987.2L232.9 997.2H221.9zM234.3 986.6L239.8 996.6H228.8zM241.3 985.9L246.8 995.9H235.8zM248.3 985.1L253.8 995.1H242.8zM255.3 984L260.8 994H249.8zM262.3 982.7L267.8 992.7H256.8zM269.3 981.2L274.8 991.2H263.8zM276.3 979.3L281.8 989.3H270.8zM283.2 977.1L288.7 987.1H277.7zM290.2 974.5L295.7 984.5H284.7zM297.2 971.5L302.7 981.5H291.7zM304.2 968.1L309.7 978.1H298.7zM311.2 964.1L316.7 974.1H305.7zM318.2 959.6L323.7 969.6H312.7zM325.1 954.6L330.6 964.6H319.6zM332.1 949L337.6 959H326.6zM339.1 942.9L344.6 952.9H333.6zM346.1 936.3L351.6 946.3H340.6zM353 929.2L358.5 939.2H347.5zM360 921.7L365.5 931.7H354.5zM367 913.8L372.5 923.8H361.5zM374 905.7L379.5 915.7H368.5zM380.9 897.5L386.4 907.5H375.4zM387.9 889.2L393.4 899.2H382.4zM394.9 881L400.4 891H389.4zM401.8 873.1L407.3 883.1H396.3zM408.8 865.5L414.3 875.5H403.3zM415.8 858.6L421.3 868.6H410.3zM422.7 852.2L428.2 862.2H417.2zM429.7 846.8L435.2 856.8H424.2zM436.7 842.2L442.2 852.2H431.2zM443.6 838.7L449.1 848.7H438.1zM450.6 836.3L456.1 846.3H445.1zM457.6 835.1L463.1 845.1H452.1zM464.5 835.2L470 845.2H459zM471.5 836.5L477 846.5H466zM478.4 839.2L483.9 849.2H472.9zM485.4 843L490.9 853H479.9zM492.4 848.1L497.9 858.1H486.9zM499.3 854.1L504.8 864.1H493.8zM506.3 861L511.8 871H500.8zM513.2 868.6L518.7 878.6H507.7zM520.2 876.7L525.7 886.7H514.7zM527.1 885.2L532.6 895.2H521.6zM534.1 893.8L539.6 903.8H528.6zM541 902.5L546.5 912.5H535.5zM548 911.1L553.5 921.1H542.5zM554.9 919.5L560.4 929.5H549.4zM561.9 927.4L567.4 937.4H556.4zM568.8 935L574.3 945H563.3zM575.8 942L581.3 952H570.3zM582.7 948.5L588.2 958.5H577.2zM589.7 954.4L595.2 964.4H584.2zM596.6 959.6L602.1 969.6H591.1zM603.6 964.3L609.1 974.3H598.1zM610.5 968.4L616 978.4H605zM617.5 972L623 982H612zM624.4 975.1L629.9 985.1H618.9zM631.4 977.7L636.9 987.7H625.9zM638.3 979.9L643.8 989.9H632.8zM645.2 981.8L650.7 991.8H639.7zM652.2 983.3L657.7 993.3H646.7zM659.1 984.5L664.6 994.5H653.6zM666 985.5L671.5 995.5H660.5zM673 986.3L678.5 996.3H667.5zM679.9 986.9L685.4 996.9H674.4zM686.9 987.4L692.4 997.4H681.4zM693.8 987.8L699.3 997.8H688.3zM700.7 988.1L706.2 998.1H695.2zM707.7 988.4L713.2 998.4H702.2z"/>
</g>
<g font-family='"Liberation Serif", serif' font-size="30.5" fill="#000" text-anchor="middle">
<text x="62.2" y="1028.6">420</text>
<text x="211.5" y="1028.6">450</text>
<text x="360.7" y="1028.6">480</text>
<text x="510" y="1028.6">510</text>
<text x="659.2" y="1028.6">540</text>
</g>
<text x="272.5" y="1068.5" font-family='"Liberation Serif", serif' font-size="31" fill="#000">Raman shift (cm<tspan font-size="18.5" dy="-12.5">-1</tspan><tspan dy="12.5">)</tspan></text>
<text transform="translate(25.3,850.8) rotate(-90)" x="0" y="0" font-family='"Liberation Serif", serif' font-size="31" fill="#000">Intensity(AU)</text>
<rect x="87.2" y="566.8" width="165.9" height="83.7" fill="#fff" stroke="#555" stroke-width="1.4"/>
<text x="101.7" y="600.9" font-family='"Liberation Serif", serif' font-size="28.4" font-weight="bold" fill="#000">CO<tspan font-size="17" dy="10">2</tspan><tspan dy="-10">: 4 sccm</tspan></text>
<text x="102.0" y="644.7" font-family='"Liberation Serif", serif' font-size="28.4" font-weight="bold" fill="#000">Xc : 37%</text>
<text x="87.2" y="831.8" font-family='"Liberation Serif", serif' font-size="52" fill="#000">(c)</text>
<path d="M62.2 567.2H709" fill="none" stroke="#000" stroke-width="2.2" stroke-linecap="square"/>
</g>
<g id="paneld">
<rect x="846" y="564" width="646.8" height="432.5" fill="none" stroke="#000" stroke-width="2.2"/>
<path d="M920.6 995.4v-4.0M920.6 565.1v4.0M995.3 995.4v-8.0M995.3 565.1v8.0M1069.9 995.4v-4.0M1069.9 565.1v4.0M1144.5 995.4v-8.0M1144.5 565.1v8.0M1219.2 995.4v-4.0M1219.2 565.1v4.0M1293.8 995.4v-8.0M1293.8 565.1v8.0M1368.4 995.4v-4.0M1368.4 565.1v4.0M1443 995.4v-8.0M1443 565.1v8.0M847.1 934.8h4.0M1491.7 934.8h-4.0M847.1 873h8.0M1491.7 873h-8.0M847.1 811.2h4.0M1491.7 811.2h-4.0M847.1 749.5h8.0M1491.7 749.5h-8.0M847.1 687.8h4.0M1491.7 687.8h-4.0M847.1 626h8.0M1491.7 626h-8.0" stroke="#000" stroke-width="2.2" fill="none"/>
<g clip-path="url(#clipd)">
<polyline fill="none" stroke="#505050" stroke-width="0.9" points="843.2,963.8 850.2,960.7 857.2,957.3 864.2,953.8 871.2,950 878.2,946 885.2,941.7 892.2,937.3 899.2,932.5 906.2,927.6 913.2,922.5 920.2,917.1 927.2,911.6 934.2,905.9 941.2,900.1 948.2,894.1 955.2,888 962.2,881.9 969.2,875.7 976.2,869.4 983.2,863.2 990.2,857 997.2,850.8 1004.2,844.8 1011.2,838.8 1018.1,833 1025.1,827.4 1032.1,821.9 1039.1,816.7 1046.1,811.6 1053.1,806.7 1060.1,802 1067,797.4 1074,792.9 1081,788.5 1088,784.1 1095,779.6 1102,775 1108.9,770.3 1115.9,765.4 1122.9,760.4 1129.9,755.2 1136.8,749.9 1143.8,744.7 1150.8,739.6 1157.8,734.9 1164.7,730.8 1171.7,727.4 1178.7,725 1185.6,723.8 1192.6,723.8 1199.6,725.3 1206.5,728.1 1213.5,732 1220.5,736.6 1227.4,741.3 1234.4,745.5 1241.4,748.4 1248.3,749.3 1255.3,747.6 1262.2,743.1 1269.2,736.1 1276.2,727.4 1283.1,718.6 1290.1,711.6 1297,708.5 1304,711.1 1310.9,720.2 1317.9,736.2 1324.8,758.1 1331.8,784.4 1338.7,812.9 1345.7,841.6 1352.6,868.5 1359.6,892.5 1366.5,912.7 1373.5,929 1380.4,941.7 1387.4,951.4 1394.3,958.7 1401.3,964.2 1408.2,968.3 1415.2,971.6 1422.1,974.3 1429,976.5 1436,978.4 1442.9,980.1 1449.8,981.7 1456.8,983 1463.7,984.3 1470.7,985.4 1477.6,986.4 1484.5,987.3 1491.5,988.1"/>
<path fill="#000" d="M838.9 959.5h8.5v8.5h-8.5zM845.9 956.4h8.5v8.5h-8.5zM852.9 953.1h8.5v8.5h-8.5zM860 949.5h8.5v8.5h-8.5zM867 945.8h8.5v8.5h-8.5zM874 941.7h8.5v8.5h-8.5zM881 937.5h8.5v8.5h-8.5zM888 933h8.5v8.5h-8.5zM895 928.3h8.5v8.5h-8.5zM902 923.4h8.5v8.5h-8.5zM909 918.2h8.5v8.5h-8.5zM916 912.9h8.5v8.5h-8.5zM923 907.4h8.5v8.5h-8.5zM930 901.7h8.5v8.5h-8.5zM937 895.8h8.5v8.5h-8.5zM944 889.9h8.5v8.5h-8.5zM951 883.8h8.5v8.5h-8.5zM958 877.6h8.5v8.5h-8.5zM965 871.4h8.5v8.5h-8.5zM972 865.2h8.5v8.5h-8.5zM978.9 858.9h8.5v8.5h-8.5zM985.9 852.7h8.5v8.5h-8.5zM992.9 846.6h8.5v8.5h-8.5zM999.9 840.5h8.5v8.5h-8.5zM1006.9 834.6h8.5v8.5h-8.5zM1013.9 828.8h8.5v8.5h-8.5zM1020.9 823.1h8.5v8.5h-8.5zM1027.9 817.7h8.5v8.5h-8.5zM1034.9 812.4h8.5v8.5h-8.5zM1041.8 807.4h8.5v8.5h-8.5zM1048.8 802.5h8.5v8.5h-8.5zM1055.8 797.8h8.5v8.5h-8.5zM1062.8 793.2h8.5v8.5h-8.5zM1069.8 788.7h8.5v8.5h-8.5zM1076.8 784.2h8.5v8.5h-8.5zM1083.7 779.8h8.5v8.5h-8.5zM1090.7 775.3h8.5v8.5h-8.5zM1097.7 770.7h8.5v8.5h-8.5zM1104.7 766h8.5v8.5h-8.5zM1111.7 761.2h8.5v8.5h-8.5zM1118.6 756.1h8.5v8.5h-8.5zM1125.6 750.9h8.5v8.5h-8.5zM1132.6 745.7h8.5v8.5h-8.5zM1139.6 740.4h8.5v8.5h-8.5zM1146.5 735.4h8.5v8.5h-8.5zM1153.5 730.7h8.5v8.5h-8.5zM1160.5 726.5h8.5v8.5h-8.5zM1167.4 723.1h8.5v8.5h-8.5zM1174.4 720.7h8.5v8.5h-8.5zM1181.4 719.5h8.5v8.5h-8.5zM1188.4 719.6h8.5v8.5h-8.5zM1195.3 721.1h8.5v8.5h-8.5zM1202.3 723.8h8.5v8.5h-8.5zM1209.3 727.7h8.5v8.5h-8.5zM1216.2 732.3h8.5v8.5h-8.5zM1223.2 737.1h8.5v8.5h-8.5zM1230.1 741.3h8.5v8.5h-8.5zM1237.1 744.2h8.5v8.5h-8.5zM1244.1 745.1h8.5v8.5h-8.5zM1251 743.4h8.5v8.5h-8.5zM1258 738.9h8.5v8.5h-8.5zM1264.9 731.8h8.5v8.5h-8.5zM1271.9 723.2h8.5v8.5h-8.5zM1278.9 714.4h8.5v8.5h-8.5zM1285.8 707.4h8.5v8.5h-8.5zM1292.8 704.3h8.5v8.5h-8.5zM1299.7 706.8h8.5v8.5h-8.5zM1306.7 716h8.5v8.5h-8.5zM1313.6 731.9h8.5v8.5h-8.5zM1320.6 753.9h8.5v8.5h-8.5zM1327.5 780.1h8.5v8.5h-8.5zM1334.5 808.6h8.5v8.5h-8.5zM1341.4 837.3h8.5v8.5h-8.5zM1348.4 864.3h8.5v8.5h-8.5zM1355.3 888.2h8.5v8.5h-8.5zM1362.3 908.4h8.5v8.5h-8.5zM1369.2 924.8h8.5v8.5h-8.5zM1376.2 937.5h8.5v8.5h-8.5zM1383.1 947.2h8.5v8.5h-8.5zM1390.1 954.5h8.5v8.5h-8.5zM1397 959.9h8.5v8.5h-8.5zM1404 964.1h8.5v8.5h-8.5zM1410.9 967.4h8.5v8.5h-8.5zM1417.8 970h8.5v8.5h-8.5zM1424.8 972.2h8.5v8.5h-8.5zM1431.7 974.2h8.5v8.5h-8.5zM1438.7 975.9h8.5v8.5h-8.5zM1445.6 977.4h8.5v8.5h-8.5zM1452.5 978.8h8.5v8.5h-8.5zM1459.5 980h8.5v8.5h-8.5zM1466.4 981.1h8.5v8.5h-8.5zM1473.3 982.1h8.5v8.5h-8.5zM1480.3 983.1h8.5v8.5h-8.5zM1487.2 983.9h8.5v8.5h-8.5z"/>
<polyline fill="none" stroke="#0000ff" stroke-width="1.0" points="843.2,963.8 850.2,960.7 857.2,957.3 864.2,953.8 871.2,950 878.2,946 885.2,941.7 892.2,937.3 899.2,932.5 906.2,927.6 913.2,922.5 920.2,917.2 927.2,911.6 934.2,905.9 941.2,900.1 948.2,894.1 955.2,888.1 962.2,881.9 969.2,875.7 976.2,869.4 983.2,863.2 990.2,857 997.2,850.9 1004.2,844.9 1011.2,839 1018.1,833.4 1025.1,827.9 1032.1,822.7 1039.1,817.8 1046.1,813.2 1053.1,808.9 1060.1,805.1 1067,801.6 1074,798.6 1081,796.1 1088,794 1095,792.4 1102,791.3 1108.9,790.8 1115.9,790.7 1122.9,791.2 1129.9,792.1 1136.8,793.5 1143.8,795.4 1150.8,797.8 1157.8,800.5 1164.7,803.7 1171.7,807.3 1178.7,811.3 1185.6,815.6 1192.6,820.2 1199.6,825.1 1206.5,830.2 1213.5,835.6 1220.5,841.2 1227.4,846.9 1234.4,852.8 1241.4,858.7 1248.3,864.7 1255.3,870.8 1262.2,876.8 1269.2,882.8 1276.2,888.7 1283.1,894.6 1290.1,900.4 1297,906 1304,911.5 1310.9,916.8 1317.9,922 1324.8,927 1331.8,931.8 1338.7,936.3 1345.7,940.7 1352.6,944.9 1359.6,948.8 1366.5,952.5 1373.5,956 1380.4,959.3 1387.4,962.4 1394.3,965.3 1401.3,968 1408.2,970.4 1415.2,972.7 1422.1,974.8 1429,976.8 1436,978.6 1442.9,980.2 1449.8,981.7 1456.8,983.1 1463.7,984.3 1470.7,985.4 1477.6,986.4 1484.5,987.3 1491.5,988.1"/>
<path fill="#0000ff" d="M838.7 963.8a4.5 4.5 0 1 0 9.0 0a4.5 4.5 0 1 0 -9.0 0zM845.7 960.7a4.5 4.5 0 1 0 9.0 0a4.5 4.5 0 1 0 -9.0 0zM852.7 957.3a4.5 4.5 0 1 0 9.0 0a4.5 4.5 0 1 0 -9.0 0zM859.7 953.8a4.5 4.5 0 1 0 9.0 0a4.5 4.5 0 1 0 -9.0 0zM866.7 950a4.5 4.5 0 1 0 9.0 0a4.5 4.5 0 1 0 -9.0 0zM873.7 946a4.5 4.5 0 1 0 9.0 0a4.5 4.5 0 1 0 -9.0 0zM880.7 941.7a4.5 4.5 0 1 0 9.0 0a4.5 4.5 0 1 0 -9.0 0zM887.7 937.3a4.5 4.5 0 1 0 9.0 0a4.5 4.5 0 1 0 -9.0 0zM894.7 932.5a4.5 4.5 0 1 0 9.0 0a4.5 4.5 0 1 0 -9.0 0zM901.7 927.6a4.5 4.5 0 1 0 9.0 0a4.5 4.5 0 1 0 -9.0 0zM908.7 922.5a4.5 4.5 0 1 0 9.0 0a4.5 4.5 0 1 0 -9.0 0zM915.7 917.2a4.5 4.5 0 1 0 9.0 0a4.5 4.5 0 1 0 -9.0 0zM922.7 911.6a4.5 4.5 0 1 0 9.0 0a4.5 4.5 0 1 0 -9.0 0zM929.7 905.9a4.5 4.5 0 1 0 9.0 0a4.5 4.5 0 1 0 -9.0 0zM936.7 900.1a4.5 4.5 0 1 0 9.0 0a4.5 4.5 0 1 0 -9.0 0zM943.7 894.1a4.5 4.5 0 1 0 9.0 0a4.5 4.5 0 1 0 -9.0 0zM950.7 888.1a4.5 4.5 0 1 0 9.0 0a4.5 4.5 0 1 0 -9.0 0zM957.7 881.9a4.5 4.5 0 1 0 9.0 0a4.5 4.5 0 1 0 -9.0 0zM964.7 875.7a4.5 4.5 0 1 0 9.0 0a4.5 4.5 0 1 0 -9.0 0zM971.7 869.4a4.5 4.5 0 1 0 9.0 0a4.5 4.5 0 1 0 -9.0 0zM978.7 863.2a4.5 4.5 0 1 0 9.0 0a4.5 4.5 0 1 0 -9.0 0zM985.7 857a4.5 4.5 0 1 0 9.0 0a4.5 4.5 0 1 0 -9.0 0zM992.7 850.9a4.5 4.5 0 1 0 9.0 0a4.5 4.5 0 1 0 -9.0 0zM999.7 844.9a4.5 4.5 0 1 0 9.0 0a4.5 4.5 0 1 0 -9.0 0zM1006.7 839a4.5 4.5 0 1 0 9.0 0a4.5 4.5 0 1 0 -9.0 0zM1013.6 833.4a4.5 4.5 0 1 0 9.0 0a4.5 4.5 0 1 0 -9.0 0zM1020.6 827.9a4.5 4.5 0 1 0 9.0 0a4.5 4.5 0 1 0 -9.0 0zM1027.6 822.7a4.5 4.5 0 1 0 9.0 0a4.5 4.5 0 1 0 -9.0 0zM1034.6 817.8a4.5 4.5 0 1 0 9.0 0a4.5 4.5 0 1 0 -9.0 0zM1041.6 813.2a4.5 4.5 0 1 0 9.0 0a4.5 4.5 0 1 0 -9.0 0zM1048.6 808.9a4.5 4.5 0 1 0 9.0 0a4.5 4.5 0 1 0 -9.0 0zM1055.6 805.1a4.5 4.5 0 1 0 9.0 0a4.5 4.5 0 1 0 -9.0 0zM1062.5 801.6a4.5 4.5 0 1 0 9.0 0a4.5 4.5 0 1 0 -9.0 0zM1069.5 798.6a4.5 4.5 0 1 0 9.0 0a4.5 4.5 0 1 0 -9.0 0zM1076.5 796.1a4.5 4.5 0 1 0 9.0 0a4.5 4.5 0 1 0 -9.0 0zM1083.5 794a4.5 4.5 0 1 0 9.0 0a4.5 4.5 0 1 0 -9.0 0zM1090.5 792.4a4.5 4.5 0 1 0 9.0 0a4.5 4.5 0 1 0 -9.0 0zM1097.5 791.3a4.5 4.5 0 1 0 9.0 0a4.5 4.5 0 1 0 -9.0 0zM1104.4 790.8a4.5 4.5 0 1 0 9.0 0a4.5 4.5 0 1 0 -9.0 0zM1111.4 790.7a4.5 4.5 0 1 0 9.0 0a4.5 4.5 0 1 0 -9.0 0zM1118.4 791.2a4.5 4.5 0 1 0 9.0 0a4.5 4.5 0 1 0 -9.0 0zM1125.4 792.1a4.5 4.5 0 1 0 9.0 0a4.5 4.5 0 1 0 -9.0 0zM1132.3 793.5a4.5 4.5 0 1 0 9.0 0a4.5 4.5 0 1 0 -9.0 0zM1139.3 795.4a4.5 4.5 0 1 0 9.0 0a4.5 4.5 0 1 0 -9.0 0zM1146.3 797.8a4.5 4.5 0 1 0 9.0 0a4.5 4.5 0 1 0 -9.0 0zM1153.3 800.5a4.5 4.5 0 1 0 9.0 0a4.5 4.5 0 1 0 -9.0 0zM1160.2 803.7a4.5 4.5 0 1 0 9.0 0a4.5 4.5 0 1 0 -9.0 0zM1167.2 807.3a4.5 4.5 0 1 0 9.0 0a4.5 4.5 0 1 0 -9.0 0zM1174.2 811.3a4.5 4.5 0 1 0 9.0 0a4.5 4.5 0 1 0 -9.0 0zM1181.1 815.6a4.5 4.5 0 1 0 9.0 0a4.5 4.5 0 1 0 -9.0 0zM1188.1 820.2a4.5 4.5 0 1 0 9.0 0a4.5 4.5 0 1 0 -9.0 0zM1195.1 825.1a4.5 4.5 0 1 0 9.0 0a4.5 4.5 0 1 0 -9.0 0zM1202 830.2a4.5 4.5 0 1 0 9.0 0a4.5 4.5 0 1 0 -9.0 0zM1209 835.6a4.5 4.5 0 1 0 9.0 0a4.5 4.5 0 1 0 -9.0 0zM1216 841.2a4.5 4.5 0 1 0 9.0 0a4.5 4.5 0 1 0 -9.0 0zM1222.9 846.9a4.5 4.5 0 1 0 9.0 0a4.5 4.5 0 1 0 -9.0 0zM1229.9 852.8a4.5 4.5 0 1 0 9.0 0a4.5 4.5 0 1 0 -9.0 0zM1236.9 858.7a4.5 4.5 0 1 0 9.0 0a4.5 4.5 0 1 0 -9.0 0zM1243.8 864.7a4.5 4.5 0 1 0 9.0 0a4.5 4.5 0 1 0 -9.0 0zM1250.8 870.8a4.5 4.5 0 1 0 9.0 0a4.5 4.5 0 1 0 -9.0 0zM1257.7 876.8a4.5 4.5 0 1 0 9.0 0a4.5 4.5 0 1 0 -9.0 0zM1264.7 882.8a4.5 4.5 0 1 0 9.0 0a4.5 4.5 0 1 0 -9.0 0zM1271.7 888.7a4.5 4.5 0 1 0 9.0 0a4.5 4.5 0 1 0 -9.0 0zM1278.6 894.6a4.5 4.5 0 1 0 9.0 0a4.5 4.5 0 1 0 -9.0 0zM1285.6 900.4a4.5 4.5 0 1 0 9.0 0a4.5 4.5 0 1 0 -9.0 0zM1292.5 906a4.5 4.5 0 1 0 9.0 0a4.5 4.5 0 1 0 -9.0 0zM1299.5 911.5a4.5 4.5 0 1 0 9.0 0a4.5 4.5 0 1 0 -9.0 0zM1306.4 916.8a4.5 4.5 0 1 0 9.0 0a4.5 4.5 0 1 0 -9.0 0zM1313.4 922a4.5 4.5 0 1 0 9.0 0a4.5 4.5 0 1 0 -9.0 0zM1320.3 927a4.5 4.5 0 1 0 9.0 0a4.5 4.5 0 1 0 -9.0 0zM1327.3 931.8a4.5 4.5 0 1 0 9.0 0a4.5 4.5 0 1 0 -9.0 0zM1334.2 936.3a4.5 4.5 0 1 0 9.0 0a4.5 4.5 0 1 0 -9.0 0zM1341.2 940.7a4.5 4.5 0 1 0 9.0 0a4.5 4.5 0 1 0 -9.0 0zM1348.1 944.9a4.5 4.5 0 1 0 9.0 0a4.5 4.5 0 1 0 -9.0 0zM1355.1 948.8a4.5 4.5 0 1 0 9.0 0a4.5 4.5 0 1 0 -9.0 0zM1362 952.5a4.5 4.5 0 1 0 9.0 0a4.5 4.5 0 1 0 -9.0 0zM1369 956a4.5 4.5 0 1 0 9.0 0a4.5 4.5 0 1 0 -9.0 0zM1375.9 959.3a4.5 4.5 0 1 0 9.0 0a4.5 4.5 0 1 0 -9.0 0zM1382.9 962.4a4.5 4.5 0 1 0 9.0 0a4.5 4.5 0 1 0 -9.0 0zM1389.8 965.3a4.5 4.5 0 1 0 9.0 0a4.5 4.5 0 1 0 -9.0 0zM1396.8 968a4.5 4.5 0 1 0 9.0 0a4.5 4.5 0 1 0 -9.0 0zM1403.7 970.4a4.5 4.5 0 1 0 9.0 0a4.5 4.5 0 1 0 -9.0 0zM1410.7 972.7a4.5 4.5 0 1 0 9.0 0a4.5 4.5 0 1 0 -9.0 0zM1417.6 974.8a4.5 4.5 0 1 0 9.0 0a4.5 4.5 0 1 0 -9.0 0zM1424.5 976.8a4.5 4.5 0 1 0 9.0 0a4.5 4.5 0 1 0 -9.0 0zM1431.5 978.6a4.5 4.5 0 1 0 9.0 0a4.5 4.5 0 1 0 -9.0 0zM1438.4 980.2a4.5 4.5 0 1 0 9.0 0a4.5 4.5 0 1 0 -9.0 0zM1445.3 981.7a4.5 4.5 0 1 0 9.0 0a4.5 4.5 0 1 0 -9.0 0zM1452.3 983.1a4.5 4.5 0 1 0 9.0 0a4.5 4.5 0 1 0 -9.0 0zM1459.2 984.3a4.5 4.5 0 1 0 9.0 0a4.5 4.5 0 1 0 -9.0 0zM1466.2 985.4a4.5 4.5 0 1 0 9.0 0a4.5 4.5 0 1 0 -9.0 0zM1473.1 986.4a4.5 4.5 0 1 0 9.0 0a4.5 4.5 0 1 0 -9.0 0zM1480 987.3a4.5 4.5 0 1 0 9.0 0a4.5 4.5 0 1 0 -9.0 0zM1487 988.1a4.5 4.5 0 1 0 9.0 0a4.5 4.5 0 1 0 -9.0 0z"/>
<polyline fill="none" stroke="#00ff00" stroke-width="1.0" points="843.2,994.1 850.2,994.1 857.2,994.1 864.2,994.1 871.2,994.1 878.2,994.1 885.2,994.1 892.2,994.1 899.2,994.1 906.2,994.1 913.2,994.1 920.2,994.1 927.2,994.1 934.2,994.1 941.2,994.1 948.2,994.1 955.2,994.1 962.2,994.1 969.2,994.1 976.2,994.1 983.2,994.1 990.2,994 997.2,994 1004.2,994 1011.2,993.9 1018.1,993.8 1025.1,993.6 1032.1,993.4 1039.1,993 1046.1,992.6 1053.1,991.9 1060.1,991.1 1067,989.9 1074,988.5 1081,986.6 1088,984.3 1095,981.5 1102,978 1108.9,974 1115.9,969.2 1122.9,963.9 1129.9,957.9 1136.8,951.4 1143.8,944.4 1150.8,937.2 1157.8,929.9 1164.7,922.8 1171.7,916 1178.7,909.8 1185.6,904.5 1192.6,900.3 1199.6,897.4 1206.5,895.8 1213.5,895.7 1220.5,897.1 1227.4,899.8 1234.4,903.7 1241.4,908.7 1248.3,914.6 1255.3,921.2 1262.2,928.2 1269.2,935.4 1276.2,942.5 1283.1,949.5 1290.1,956 1297,962.1 1304,967.6 1310.9,972.4 1317.9,976.7 1324.8,980.3 1331.8,983.3 1338.7,985.8 1345.7,987.8 1352.6,989.4 1359.6,990.6 1366.5,991.6 1373.5,992.3 1380.4,992.8 1387.4,993.2 1394.3,993.5 1401.3,993.7 1408.2,993.8 1415.2,993.9 1422.1,994 1429,994 1436,994.1 1442.9,994.1 1449.8,994.1 1456.8,994.1 1463.7,994.1 1470.7,994.1 1477.6,994.1 1484.5,994.1 1491.5,994.1"/>
<path fill="#00ff00" d="M843.2 989.1L848.7 999.1H837.7zM850.2 989.1L855.7 999.1H844.7zM857.2 989.1L862.7 999.1H851.7zM864.2 989.1L869.7 999.1H858.7zM871.2 989.1L876.7 999.1H865.7zM878.2 989.1L883.7 999.1H872.7zM885.2 989.1L890.7 999.1H879.7zM892.2 989.1L897.7 999.1H886.7zM899.2 989.1L904.7 999.1H893.7zM906.2 989.1L911.7 999.1H900.7zM913.2 989.1L918.7 999.1H907.7zM920.2 989.1L925.7 999.1H914.7zM927.2 989.1L932.7 999.1H921.7zM934.2 989.1L939.7 999.1H928.7zM941.2 989.1L946.7 999.1H935.7zM948.2 989.1L953.7 999.1H942.7zM955.2 989.1L960.7 999.1H949.7zM962.2 989.1L967.7 999.1H956.7zM969.2 989.1L974.7 999.1H963.7zM976.2 989.1L981.7 999.1H970.7zM983.2 989.1L988.7 999.1H977.7zM990.2 989L995.7 999H984.7zM997.2 989L1002.7 999H991.7zM1004.2 989L1009.7 999H998.7zM1011.2 988.9L1016.7 998.9H1005.7zM1018.1 988.8L1023.6 998.8H1012.6zM1025.1 988.6L1030.6 998.6H1019.6zM1032.1 988.4L1037.6 998.4H1026.6zM1039.1 988L1044.6 998H1033.6zM1046.1 987.6L1051.6 997.6H1040.6zM1053.1 986.9L1058.6 996.9H1047.6zM1060.1 986.1L1065.6 996.1H1054.6zM1067 984.9L1072.5 994.9H1061.5zM1074 983.5L1079.5 993.5H1068.5zM1081 981.6L1086.5 991.6H1075.5zM1088 979.3L1093.5 989.3H1082.5zM1095 976.5L1100.5 986.5H1089.5zM1102 973L1107.5 983H1096.5zM1108.9 969L1114.4 979H1103.4zM1115.9 964.2L1121.4 974.2H1110.4zM1122.9 958.9L1128.4 968.9H1117.4zM1129.9 952.9L1135.4 962.9H1124.4zM1136.8 946.4L1142.3 956.4H1131.3zM1143.8 939.4L1149.3 949.4H1138.3zM1150.8 932.2L1156.3 942.2H1145.3zM1157.8 924.9L1163.3 934.9H1152.3zM1164.7 917.8L1170.2 927.8H1159.2zM1171.7 911L1177.2 921H1166.2zM1178.7 904.8L1184.2 914.8H1173.2zM1185.6 899.5L1191.1 909.5H1180.1zM1192.6 895.3L1198.1 905.3H1187.1zM1199.6 892.4L1205.1 902.4H1194.1zM1206.5 890.8L1212 900.8H1201zM1213.5 890.7L1219 900.7H1208zM1220.5 892.1L1226 902.1H1215zM1227.4 894.8L1232.9 904.8H1221.9zM1234.4 898.7L1239.9 908.7H1228.9zM1241.4 903.7L1246.9 913.7H1235.9zM1248.3 909.6L1253.8 919.6H1242.8zM1255.3 916.2L1260.8 926.2H1249.8zM1262.2 923.2L1267.7 933.2H1256.7zM1269.2 930.4L1274.7 940.4H1263.7zM1276.2 937.5L1281.7 947.5H1270.7zM1283.1 944.5L1288.6 954.5H1277.6zM1290.1 951L1295.6 961H1284.6zM1297 957.1L1302.5 967.1H1291.5zM1304 962.6L1309.5 972.6H1298.5zM1310.9 967.4L1316.4 977.4H1305.4zM1317.9 971.7L1323.4 981.7H1312.4zM1324.8 975.3L1330.3 985.3H1319.3zM1331.8 978.3L1337.3 988.3H1326.3zM1338.7 980.8L1344.2 990.8H1333.2zM1345.7 982.8L1351.2 992.8H1340.2zM1352.6 984.4L1358.1 994.4H1347.1zM1359.6 985.6L1365.1 995.6H1354.1zM1366.5 986.6L1372 996.6H1361zM1373.5 987.3L1379 997.3H1368zM1380.4 987.8L1385.9 997.8H1374.9zM1387.4 988.2L1392.9 998.2H1381.9zM1394.3 988.5L1399.8 998.5H1388.8zM1401.3 988.7L1406.8 998.7H1395.8zM1408.2 988.8L1413.7 998.8H1402.7zM1415.2 988.9L1420.7 998.9H1409.7zM1422.1 989L1427.6 999H1416.6zM1429 989L1434.5 999H1423.5zM1436 989.1L1441.5 999.1H1430.5zM1442.9 989.1L1448.4 999.1H1437.4zM1449.8 989.1L1455.3 999.1H1444.3zM1456.8 989.1L1462.3 999.1H1451.3zM1463.7 989.1L1469.2 999.1H1458.2zM1470.7 989.1L1476.2 999.1H1465.2zM1477.6 989.1L1483.1 999.1H1472.1zM1484.5 989.1L1490 999.1H1479zM1491.5 989.1L1497 999.1H1486z"/>
<polyline fill="none" stroke="#f02828" stroke-width="1.0" points="843.2,996.9 850.2,996.9 857.2,996.9 864.2,996.9 871.2,996.9 878.2,996.9 885.2,996.9 892.2,996.9 899.2,996.9 906.2,996.9 913.2,996.9 920.2,996.9 927.2,996.9 934.2,996.9 941.2,996.9 948.2,996.9 955.2,996.9 962.2,996.9 969.2,996.9 976.2,996.9 983.2,996.9 990.2,996.9 997.2,996.9 1004.2,996.9 1011.2,996.9 1018.1,996.9 1025.1,996.9 1032.1,996.9 1039.1,996.9 1046.1,996.9 1053.1,996.9 1060.1,996.9 1067,996.9 1074,996.9 1081,996.9 1088,996.9 1095,996.9 1102,996.9 1108.9,996.9 1115.9,996.9 1122.9,996.9 1129.9,996.9 1136.8,996.9 1143.8,996.9 1150.8,996.9 1157.8,996.9 1164.7,996.9 1171.7,996.9 1178.7,996.8 1185.6,996.7 1192.6,996.5 1199.6,996.1 1206.5,995.4 1213.5,994.1 1220.5,991.9 1227.4,988.3 1234.4,982.8 1241.4,974.8 1248.3,963.7 1255.3,949.3 1262.2,931.4 1269.2,910.8 1276.2,888.7 1283.1,866.8 1290.1,847.3 1297,832.3 1304,823.6 1310.9,822.5 1317.9,828.9 1324.8,842.2 1331.8,860.6 1338.7,882 1345.7,904.2 1352.6,925.4 1359.6,944.1 1366.5,959.7 1373.5,971.7 1380.4,980.6 1387.4,986.8 1394.3,991 1401.3,993.5 1408.2,995.1 1415.2,996 1422.1,996.4 1429,996.7 1436,996.8 1442.9,996.9 1449.8,996.9 1456.8,996.9 1463.7,996.9 1470.7,996.9 1477.6,996.9 1484.5,996.9 1491.5,996.9"/>
<path fill="#ff0000" d="M837.7 991.9H848.7L843.2 1001.9zM844.7 991.9H855.7L850.2 1001.9zM851.7 991.9H862.7L857.2 1001.9zM858.7 991.9H869.7L864.2 1001.9zM865.7 991.9H876.7L871.2 1001.9zM872.7 991.9H883.7L878.2 1001.9zM879.7 991.9H890.7L885.2 1001.9zM886.7 991.9H897.7L892.2 1001.9zM893.7 991.9H904.7L899.2 1001.9zM900.7 991.9H911.7L906.2 1001.9zM907.7 991.9H918.7L913.2 1001.9zM914.7 991.9H925.7L920.2 1001.9zM921.7 991.9H932.7L927.2 1001.9zM928.7 991.9H939.7L934.2 1001.9zM935.7 991.9H946.7L941.2 1001.9zM942.7 991.9H953.7L948.2 1001.9zM949.7 991.9H960.7L955.2 1001.9zM956.7 991.9H967.7L962.2 1001.9zM963.7 991.9H974.7L969.2 1001.9zM970.7 991.9H981.7L976.2 1001.9zM977.7 991.9H988.7L983.2 1001.9zM984.7 991.9H995.7L990.2 1001.9zM991.7 991.9H1002.7L997.2 1001.9zM998.7 991.9H1009.7L1004.2 1001.9zM1005.7 991.9H1016.7L1011.2 1001.9zM1012.6 991.9H1023.6L1018.1 1001.9zM1019.6 991.9H1030.6L1025.1 1001.9zM1026.6 991.9H1037.6L1032.1 1001.9zM1033.6 991.9H1044.6L1039.1 1001.9zM1040.6 991.9H1051.6L1046.1 1001.9zM1047.6 991.9H1058.6L1053.1 1001.9zM1054.6 991.9H1065.6L1060.1 1001.9zM1061.5 991.9H1072.5L1067 1001.9zM1068.5 991.9H1079.5L1074 1001.9zM1075.5 991.9H1086.5L1081 1001.9zM1082.5 991.9H1093.5L1088 1001.9zM1089.5 991.9H1100.5L1095 1001.9zM1096.5 991.9H1107.5L1102 1001.9zM1103.4 991.9H1114.4L1108.9 1001.9zM1110.4 991.9H1121.4L1115.9 1001.9zM1117.4 991.9H1128.4L1122.9 1001.9zM1124.4 991.9H1135.4L1129.9 1001.9zM1131.3 991.9H1142.3L1136.8 1001.9zM1138.3 991.9H1149.3L1143.8 1001.9zM1145.3 991.9H1156.3L1150.8 1001.9zM1152.3 991.9H1163.3L1157.8 1001.9zM1159.2 991.9H1170.2L1164.7 1001.9zM1166.2 991.9H1177.2L1171.7 1001.9zM1173.2 991.8H1184.2L1178.7 1001.8zM1180.1 991.7H1191.1L1185.6 1001.7zM1187.1 991.5H1198.1L1192.6 1001.5zM1194.1 991.1H1205.1L1199.6 1001.1zM1201 990.4H1212L1206.5 1000.4zM1208 989.1H1219L1213.5 999.1zM1215 986.9H1226L1220.5 996.9zM1221.9 983.3H1232.9L1227.4 993.3zM1228.9 977.8H1239.9L1234.4 987.8zM1235.9 969.8H1246.9L1241.4 979.8zM1242.8 958.7H1253.8L1248.3 968.7zM1249.8 944.3H1260.8L1255.3 954.3zM1256.7 926.4H1267.7L1262.2 936.4zM1263.7 905.8H1274.7L1269.2 915.8zM1270.7 883.7H1281.7L1276.2 893.7zM1277.6 861.8H1288.6L1283.1 871.8zM1284.6 842.3H1295.6L1290.1 852.3zM1291.5 827.3H1302.5L1297 837.3zM1298.5 818.6H1309.5L1304 828.6zM1305.4 817.5H1316.4L1310.9 827.5zM1312.4 823.9H1323.4L1317.9 833.9zM1319.3 837.2H1330.3L1324.8 847.2zM1326.3 855.6H1337.3L1331.8 865.6zM1333.2 877H1344.2L1338.7 887zM1340.2 899.2H1351.2L1345.7 909.2zM1347.1 920.4H1358.1L1352.6 930.4zM1354.1 939.1H1365.1L1359.6 949.1zM1361 954.7H1372L1366.5 964.7zM1368 966.7H1379L1373.5 976.7zM1374.9 975.6H1385.9L1380.4 985.6zM1381.9 981.8H1392.9L1387.4 991.8zM1388.8 986H1399.8L1394.3 996zM1395.8 988.5H1406.8L1401.3 998.5zM1402.7 990.1H1413.7L1408.2 1000.1zM1409.7 991H1420.7L1415.2 1001zM1416.6 991.4H1427.6L1422.1 1001.4zM1423.5 991.7H1434.5L1429 1001.7zM1430.5 991.8H1441.5L1436 1001.8zM1437.4 991.9H1448.4L1442.9 1001.9zM1444.3 991.9H1455.3L1449.8 1001.9zM1451.3 991.9H1462.3L1456.8 1001.9zM1458.2 991.9H1469.2L1463.7 1001.9zM1465.2 991.9H1476.2L1470.7 1001.9zM1472.1 991.9H1483.1L1477.6 1001.9zM1479 991.9H1490L1484.5 1001.9zM1486 991.9H1497L1491.5 1001.9z"/>
</g>
<g font-family='"Liberation Serif", serif' font-size="30.5" fill="#000" text-anchor="middle">
<text x="846" y="1029.2">420</text>
<text x="995.3" y="1029.2">450</text>
<text x="1144.5" y="1029.2">480</text>
<text x="1293.8" y="1029.2">510</text>
<text x="1443" y="1029.2">540</text>
</g>
<text x="1061.5" y="1070.7" font-family='"Liberation Serif", serif' font-size="31" fill="#000">Raman shift (cm<tspan font-size="18.5" dy="-12.5">-1</tspan><tspan dy="12.5">)</tspan></text>
<text transform="translate(811.1,840.8) rotate(-90)" x="0" y="0" font-family='"Liberation Serif", serif' font-size="31" fill="#000">Intensity(AU)</text>
<rect x="874.5" y="564.7" width="160.9" height="84.6" fill="#fff" stroke="#555" stroke-width="1.4"/>
<text x="889.3" y="598.5" font-family='"Liberation Serif", serif' font-size="29" fill="#000">CO<tspan font-size="17" dy="10">2</tspan><tspan dy="-10">: 6 sccm</tspan></text>
<text x="889.9" y="643.6" font-family='"Liberation Serif", serif' font-size="29" fill="#000">Xc : 28%</text>
<text x="867.5" y="829.9" font-family='"Liberation Serif", serif' font-size="52" fill="#000">(d)</text>
<path d="M846 564H1492.8" fill="none" stroke="#000" stroke-width="2.2" stroke-linecap="square"/>
</g>
</svg></body></html>
